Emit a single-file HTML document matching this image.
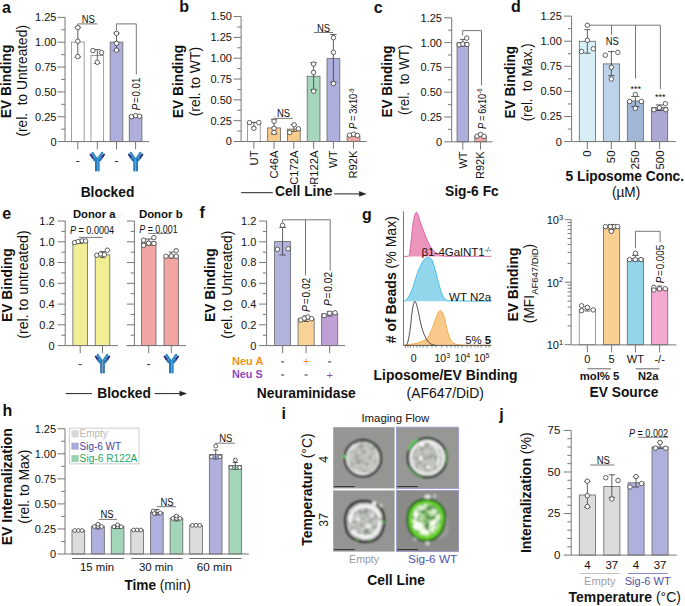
<!DOCTYPE html>
<html><head><meta charset="utf-8"><title>Figure</title>
<style>html,body{margin:0;padding:0;background:#fff;}svg{display:block;}text{font-family:"Liberation Sans",sans-serif;}</style>
</head><body>
<svg width="685" height="606" viewBox="0 0 685 606" font-family="Liberation Sans, sans-serif" fill="#111">
<defs>
<filter id="blur1" x="-20%" y="-20%" width="140%" height="140%"><feGaussianBlur stdDeviation="0.95"/></filter>
<radialGradient id="cellg" cx="0.5" cy="0.5" r="0.5"><stop offset="0" stop-color="#BEC2BB"/><stop offset="0.75" stop-color="#C8CBC5"/><stop offset="1" stop-color="#D6D8D4"/></radialGradient>
<radialGradient id="cellg2" cx="0.5" cy="0.5" r="0.5"><stop offset="0" stop-color="#BFC3BD"/><stop offset="0.7" stop-color="#CACDC8"/><stop offset="1" stop-color="#DCDDDB"/></radialGradient>
<radialGradient id="cellgreen" cx="0.5" cy="0.45" r="0.5"><stop offset="0" stop-color="#9CCB86"/><stop offset="0.5" stop-color="#C8E6B4"/><stop offset="0.85" stop-color="#EFFBE6"/><stop offset="1" stop-color="#B8EA80"/></radialGradient>
<clipPath id="cTL"><circle cx="362.9" cy="458.3" r="16.8"/></clipPath>
<clipPath id="cTR"><circle cx="427.3" cy="457.8" r="18"/></clipPath>
<clipPath id="cBL"><path d="M347.2 522 C346.8 511 352 504.2 360.5 503 C369 502 378.5 505 381 512.5 C384 521 382.5 532.5 374.5 538 C366 542.5 353 539.5 349 531 C347.8 528 347.3 525 347.2 522Z"/></clipPath>
<clipPath id="cBR"><path d="M411.5 521 C411.3 511 417 504.5 425 504 C434 503.6 440.5 509 440.7 518 C441 527 436.5 534.5 428 536.2 C418.5 537.2 412 530.5 411.5 521Z"/></clipPath>
<filter id="noise1" x="0" y="0" width="100%" height="100%" color-interpolation-filters="sRGB"><feTurbulence type="fractalNoise" baseFrequency="0.2" numOctaves="2" seed="3"/><feColorMatrix type="matrix" values="0 0 0 0 0.55  0 0 0 0 0.57  0 0 0 0 0.54  3.2 0 0 0 -1.45"/></filter>
<filter id="noise2" x="0" y="0" width="100%" height="100%" color-interpolation-filters="sRGB"><feTurbulence type="fractalNoise" baseFrequency="0.2" numOctaves="2" seed="7"/><feColorMatrix type="matrix" values="0 0 0 0 0.55  0 0 0 0 0.57  0 0 0 0 0.54  3.2 0 0 0 -1.45"/></filter>
<filter id="noise3" x="0" y="0" width="100%" height="100%" color-interpolation-filters="sRGB"><feTurbulence type="fractalNoise" baseFrequency="0.2" numOctaves="2" seed="11"/><feColorMatrix type="matrix" values="0 0 0 0 0.5  0 0 0 0 0.52  0 0 0 0 0.49  3.2 0 0 0 -1.45"/></filter>
<filter id="noise4" x="0" y="0" width="100%" height="100%" color-interpolation-filters="sRGB"><feTurbulence type="fractalNoise" baseFrequency="0.2" numOctaves="2" seed="5"/><feColorMatrix type="matrix" values="0 0 0 0 0.15  0 0 0 0 0.45  0 0 0 0 0.12  3.2 0 0 0 -1.45"/></filter>
</defs>
<rect width="685" height="606" fill="#fff"/>
<text x="2" y="13" font-size="16" font-weight="bold">a</text>
<text x="11.1" y="81.4" font-size="13.8" font-weight="bold" text-anchor="middle" textLength="73.5" lengthAdjust="spacingAndGlyphs" transform="rotate(-90 11.1 81.4)">EV Binding</text>
<text x="27.5" y="80.8" font-size="13.8" text-anchor="middle" textLength="111.6" lengthAdjust="spacingAndGlyphs" transform="rotate(-90 27.5 80.8)">(rel.  to Untreated)</text>
<line x1="65" y1="17.35" x2="65" y2="141.6" stroke="#777" stroke-width="1"/>
<line x1="57.5" y1="141.6" x2="65" y2="141.6" stroke="#777" stroke-width="1"/>
<text x="56.5" y="145.5" font-size="11" text-anchor="end">0</text>
<line x1="57.5" y1="116.75" x2="65" y2="116.75" stroke="#777" stroke-width="1"/>
<text x="56.5" y="120.65" font-size="11" text-anchor="end">0.25</text>
<line x1="57.5" y1="91.9" x2="65" y2="91.9" stroke="#777" stroke-width="1"/>
<text x="56.5" y="95.8" font-size="11" text-anchor="end">0.50</text>
<line x1="57.5" y1="67.05" x2="65" y2="67.05" stroke="#777" stroke-width="1"/>
<text x="56.5" y="70.95" font-size="11" text-anchor="end">0.75</text>
<line x1="57.5" y1="42.2" x2="65" y2="42.2" stroke="#777" stroke-width="1"/>
<text x="56.5" y="46.1" font-size="11" text-anchor="end">1.00</text>
<line x1="57.5" y1="17.35" x2="65" y2="17.35" stroke="#777" stroke-width="1"/>
<text x="56.5" y="21.25" font-size="11" text-anchor="end">1.25</text>
<line x1="61.2" y1="129.17" x2="65" y2="129.17" stroke="#777" stroke-width="1"/>
<line x1="61.2" y1="104.32" x2="65" y2="104.32" stroke="#777" stroke-width="1"/>
<line x1="61.2" y1="79.47" x2="65" y2="79.47" stroke="#777" stroke-width="1"/>
<line x1="61.2" y1="54.62" x2="65" y2="54.62" stroke="#777" stroke-width="1"/>
<line x1="61.2" y1="29.77" x2="65" y2="29.77" stroke="#777" stroke-width="1"/>
<rect x="71.45" y="42.1" width="12.7" height="99.5" fill="#fff" stroke="#888" stroke-width="0.8"/>
<rect x="90.95" y="55.5" width="12.7" height="86.1" fill="#fff" stroke="#888" stroke-width="0.8"/>
<rect x="110.15" y="42.1" width="12.7" height="99.5" fill="#AEAFDC" stroke="#666" stroke-width="0.8"/>
<rect x="129.25" y="115.8" width="12.7" height="25.8" fill="#AEAFDC" stroke="#666" stroke-width="0.8"/>
<line x1="65" y1="141.6" x2="149" y2="141.6" stroke="#777" stroke-width="1"/>
<line x1="77.8" y1="141.6" x2="77.8" y2="149.3" stroke="#777" stroke-width="1"/>
<line x1="97.3" y1="141.6" x2="97.3" y2="149.3" stroke="#777" stroke-width="1"/>
<line x1="116.5" y1="141.6" x2="116.5" y2="149.3" stroke="#777" stroke-width="1"/>
<line x1="135.6" y1="141.6" x2="135.6" y2="149.3" stroke="#777" stroke-width="1"/>
<line x1="77.8" y1="27.3" x2="77.8" y2="57" stroke="#3a3a3a" stroke-width="0.8"/>
<line x1="74.6" y1="27.3" x2="81" y2="27.3" stroke="#3a3a3a" stroke-width="0.8"/>
<line x1="74.6" y1="57" x2="81" y2="57" stroke="#3a3a3a" stroke-width="0.8"/>
<circle cx="77.8" cy="27.6" r="2.25" fill="#fff" stroke="#3a3a3a" stroke-width="0.8"/>
<circle cx="77.8" cy="41.2" r="2.25" fill="#fff" stroke="#3a3a3a" stroke-width="0.8"/>
<circle cx="77.8" cy="56.6" r="2.25" fill="#fff" stroke="#3a3a3a" stroke-width="0.8"/>
<line x1="97.3" y1="49.6" x2="97.3" y2="63.5" stroke="#3a3a3a" stroke-width="0.8"/>
<line x1="94.1" y1="49.6" x2="100.5" y2="49.6" stroke="#3a3a3a" stroke-width="0.8"/>
<line x1="94.1" y1="63.5" x2="100.5" y2="63.5" stroke="#3a3a3a" stroke-width="0.8"/>
<circle cx="92.9" cy="50.6" r="2.25" fill="#fff" stroke="#3a3a3a" stroke-width="0.8"/>
<circle cx="101.6" cy="52.6" r="2.25" fill="#fff" stroke="#3a3a3a" stroke-width="0.8"/>
<circle cx="97.3" cy="62.3" r="2.25" fill="#fff" stroke="#3a3a3a" stroke-width="0.8"/>
<line x1="116.5" y1="33.2" x2="116.5" y2="50.6" stroke="#3a3a3a" stroke-width="0.8"/>
<line x1="113.3" y1="33.2" x2="119.7" y2="33.2" stroke="#3a3a3a" stroke-width="0.8"/>
<line x1="113.3" y1="50.6" x2="119.7" y2="50.6" stroke="#3a3a3a" stroke-width="0.8"/>
<circle cx="116.5" cy="33.4" r="2.25" fill="#fff" stroke="#3a3a3a" stroke-width="0.8"/>
<circle cx="116.5" cy="43.4" r="2.25" fill="#fff" stroke="#3a3a3a" stroke-width="0.8"/>
<circle cx="116.5" cy="50.2" r="2.25" fill="#fff" stroke="#3a3a3a" stroke-width="0.8"/>
<circle cx="131.5" cy="116.6" r="2.25" fill="#fff" stroke="#3a3a3a" stroke-width="0.8"/>
<circle cx="135.6" cy="115.6" r="2.25" fill="#fff" stroke="#3a3a3a" stroke-width="0.8"/>
<circle cx="139.6" cy="116.2" r="2.25" fill="#fff" stroke="#3a3a3a" stroke-width="0.8"/>
<path d="M77.8 26.2V23.9H97.4" stroke="#777" stroke-width="1" fill="none"/>
<text x="88.3" y="22.8" font-size="10" text-anchor="middle" textLength="13.2" lengthAdjust="spacingAndGlyphs">NS</text>
<path d="M116.4 30.8V23.9H136.3V74.5" stroke="#777" stroke-width="1" fill="none"/>
<text x="139.5" y="94" font-size="10.2" text-anchor="middle" textLength="32.7" lengthAdjust="spacingAndGlyphs" transform="rotate(-90 139.5 94)"><tspan font-style="italic">P</tspan> = 0.01</text>
<line x1="76.2" y1="161.5" x2="79.4" y2="161.5" stroke="#333" stroke-width="1"/>
<line x1="114.9" y1="161.5" x2="118.1" y2="161.5" stroke="#333" stroke-width="1"/>
<g transform="translate(0 0)" stroke-linecap="round" fill="none">
<line x1="96.1" y1="158.6" x2="96.1" y2="170.5" stroke="#1F5C93" stroke-width="2.1"/>
<line x1="98.5" y1="158.6" x2="98.5" y2="170.5" stroke="#1F5C93" stroke-width="2.1"/>
<line x1="96.2" y1="158.4" x2="92.5" y2="152.9" stroke="#1F6FA6" stroke-width="2.1"/>
<line x1="98.4" y1="158.4" x2="102.1" y2="152.9" stroke="#1F6FA6" stroke-width="2.1"/>
<line x1="94.6" y1="160.1" x2="92.6" y2="157.3" stroke="#1F5C93" stroke-width="2.1"/>
<line x1="92.6" y1="157.3" x2="90.6" y2="154.5" stroke="#1C1F6A" stroke-width="2.1"/>
<line x1="100.0" y1="160.1" x2="102.0" y2="157.3" stroke="#1F5C93" stroke-width="2.1"/>
<line x1="102.0" y1="157.3" x2="104.0" y2="154.5" stroke="#1C1F6A" stroke-width="2.1"/>
<line x1="96.1" y1="158.6" x2="96.1" y2="170.5" stroke="#2D8ACB" stroke-width="1.1"/>
<line x1="98.5" y1="158.6" x2="98.5" y2="170.5" stroke="#2D8ACB" stroke-width="1.1"/>
<line x1="96.2" y1="158.4" x2="92.5" y2="152.9" stroke="#2C9FD8" stroke-width="1.1"/>
<line x1="98.4" y1="158.4" x2="102.1" y2="152.9" stroke="#2C9FD8" stroke-width="1.1"/>
<line x1="94.6" y1="160.1" x2="92.6" y2="157.3" stroke="#2D8ACB" stroke-width="1.1"/>
<line x1="92.6" y1="157.3" x2="90.6" y2="154.5" stroke="#2E3A9E" stroke-width="1.1"/>
<line x1="100.0" y1="160.1" x2="102.0" y2="157.3" stroke="#2D8ACB" stroke-width="1.1"/>
<line x1="102.0" y1="157.3" x2="104.0" y2="154.5" stroke="#2E3A9E" stroke-width="1.1"/>
</g>
<g transform="translate(38.3 0)" stroke-linecap="round" fill="none">
<line x1="96.1" y1="158.6" x2="96.1" y2="170.5" stroke="#1F5C93" stroke-width="2.1"/>
<line x1="98.5" y1="158.6" x2="98.5" y2="170.5" stroke="#1F5C93" stroke-width="2.1"/>
<line x1="96.2" y1="158.4" x2="92.5" y2="152.9" stroke="#1F6FA6" stroke-width="2.1"/>
<line x1="98.4" y1="158.4" x2="102.1" y2="152.9" stroke="#1F6FA6" stroke-width="2.1"/>
<line x1="94.6" y1="160.1" x2="92.6" y2="157.3" stroke="#1F5C93" stroke-width="2.1"/>
<line x1="92.6" y1="157.3" x2="90.6" y2="154.5" stroke="#1C1F6A" stroke-width="2.1"/>
<line x1="100.0" y1="160.1" x2="102.0" y2="157.3" stroke="#1F5C93" stroke-width="2.1"/>
<line x1="102.0" y1="157.3" x2="104.0" y2="154.5" stroke="#1C1F6A" stroke-width="2.1"/>
<line x1="96.1" y1="158.6" x2="96.1" y2="170.5" stroke="#2D8ACB" stroke-width="1.1"/>
<line x1="98.5" y1="158.6" x2="98.5" y2="170.5" stroke="#2D8ACB" stroke-width="1.1"/>
<line x1="96.2" y1="158.4" x2="92.5" y2="152.9" stroke="#2C9FD8" stroke-width="1.1"/>
<line x1="98.4" y1="158.4" x2="102.1" y2="152.9" stroke="#2C9FD8" stroke-width="1.1"/>
<line x1="94.6" y1="160.1" x2="92.6" y2="157.3" stroke="#2D8ACB" stroke-width="1.1"/>
<line x1="92.6" y1="157.3" x2="90.6" y2="154.5" stroke="#2E3A9E" stroke-width="1.1"/>
<line x1="100.0" y1="160.1" x2="102.0" y2="157.3" stroke="#2D8ACB" stroke-width="1.1"/>
<line x1="102.0" y1="157.3" x2="104.0" y2="154.5" stroke="#2E3A9E" stroke-width="1.1"/>
</g>
<text x="107.5" y="197" font-size="13.8" font-weight="bold" text-anchor="middle">Blocked</text>
<text x="179.3" y="12.4" font-size="16" font-weight="bold">b</text>
<text x="182.8" y="81.5" font-size="13.8" font-weight="bold" text-anchor="middle" textLength="73.5" lengthAdjust="spacingAndGlyphs" transform="rotate(-90 182.8 81.5)">EV Binding</text>
<text x="199.8" y="81.6" font-size="13.8" text-anchor="middle" textLength="69.3" lengthAdjust="spacingAndGlyphs" transform="rotate(-90 199.8 81.6)">(rel. to WT)</text>
<line x1="241.1" y1="16.55" x2="241.1" y2="141.5" stroke="#777" stroke-width="1"/>
<line x1="233.6" y1="141.5" x2="241.1" y2="141.5" stroke="#777" stroke-width="1"/>
<text x="231.9" y="145.4" font-size="11" text-anchor="end">0</text>
<line x1="233.6" y1="120.67" x2="241.1" y2="120.67" stroke="#777" stroke-width="1"/>
<text x="231.9" y="124.58" font-size="11" text-anchor="end">0.25</text>
<line x1="233.6" y1="99.85" x2="241.1" y2="99.85" stroke="#777" stroke-width="1"/>
<text x="231.9" y="103.75" font-size="11" text-anchor="end">0.50</text>
<line x1="233.6" y1="79.03" x2="241.1" y2="79.03" stroke="#777" stroke-width="1"/>
<text x="231.9" y="82.93" font-size="11" text-anchor="end">0.75</text>
<line x1="233.6" y1="58.2" x2="241.1" y2="58.2" stroke="#777" stroke-width="1"/>
<text x="231.9" y="62.1" font-size="11" text-anchor="end">1.00</text>
<line x1="233.6" y1="37.38" x2="241.1" y2="37.38" stroke="#777" stroke-width="1"/>
<text x="231.9" y="41.27" font-size="11" text-anchor="end">1.25</text>
<line x1="233.6" y1="16.55" x2="241.1" y2="16.55" stroke="#777" stroke-width="1"/>
<text x="231.9" y="20.45" font-size="11" text-anchor="end">1.50</text>
<line x1="237.3" y1="131.09" x2="241.1" y2="131.09" stroke="#777" stroke-width="1"/>
<line x1="237.3" y1="110.26" x2="241.1" y2="110.26" stroke="#777" stroke-width="1"/>
<line x1="237.3" y1="89.44" x2="241.1" y2="89.44" stroke="#777" stroke-width="1"/>
<line x1="237.3" y1="68.61" x2="241.1" y2="68.61" stroke="#777" stroke-width="1"/>
<line x1="237.3" y1="47.79" x2="241.1" y2="47.79" stroke="#777" stroke-width="1"/>
<line x1="237.3" y1="26.96" x2="241.1" y2="26.96" stroke="#777" stroke-width="1"/>
<rect x="247.45" y="122.6" width="12.8" height="18.9" fill="#fff" stroke="#888" stroke-width="0.8"/>
<rect x="267.65" y="127.9" width="12.8" height="13.6" fill="#F7CB8E" stroke="#666" stroke-width="0.8"/>
<rect x="287.4" y="129.1" width="12.8" height="12.4" fill="#F7CB8E" stroke="#666" stroke-width="0.8"/>
<rect x="307.2" y="76.2" width="12.8" height="65.3" fill="#A6D7BC" stroke="#666" stroke-width="0.8"/>
<rect x="327" y="58.6" width="12.8" height="82.9" fill="#AEAFDC" stroke="#666" stroke-width="0.8"/>
<rect x="347.15" y="136" width="12.8" height="5.5" fill="#F0A7A3" stroke="#666" stroke-width="0.8"/>
<line x1="241.1" y1="141.5" x2="366.5" y2="141.5" stroke="#777" stroke-width="1"/>
<line x1="253.85" y1="141.5" x2="253.85" y2="148.7" stroke="#777" stroke-width="1"/>
<line x1="274.05" y1="141.5" x2="274.05" y2="148.7" stroke="#777" stroke-width="1"/>
<line x1="293.8" y1="141.5" x2="293.8" y2="148.7" stroke="#777" stroke-width="1"/>
<line x1="313.6" y1="141.5" x2="313.6" y2="148.7" stroke="#777" stroke-width="1"/>
<line x1="333.4" y1="141.5" x2="333.4" y2="148.7" stroke="#777" stroke-width="1"/>
<line x1="353.55" y1="141.5" x2="353.55" y2="148.7" stroke="#777" stroke-width="1"/>
<line x1="253.85" y1="122.4" x2="253.85" y2="127" stroke="#3a3a3a" stroke-width="0.8"/>
<line x1="251.35" y1="122.4" x2="256.35" y2="122.4" stroke="#3a3a3a" stroke-width="0.8"/>
<line x1="251.35" y1="127" x2="256.35" y2="127" stroke="#3a3a3a" stroke-width="0.8"/>
<circle cx="249.5" cy="122.6" r="2.25" fill="#fff" stroke="#3a3a3a" stroke-width="0.8"/>
<circle cx="258.8" cy="122.6" r="2.25" fill="#fff" stroke="#3a3a3a" stroke-width="0.8"/>
<circle cx="253.85" cy="128.3" r="2.25" fill="#fff" stroke="#3a3a3a" stroke-width="0.8"/>
<line x1="274.05" y1="119.2" x2="274.05" y2="134" stroke="#3a3a3a" stroke-width="0.8"/>
<line x1="270.85" y1="119.2" x2="277.25" y2="119.2" stroke="#3a3a3a" stroke-width="0.8"/>
<line x1="270.85" y1="134" x2="277.25" y2="134" stroke="#3a3a3a" stroke-width="0.8"/>
<circle cx="274.05" cy="121.3" r="2.25" fill="#fff" stroke="#3a3a3a" stroke-width="0.8"/>
<circle cx="274.05" cy="128.4" r="2.25" fill="#fff" stroke="#3a3a3a" stroke-width="0.8"/>
<circle cx="274.05" cy="132.4" r="2.25" fill="#fff" stroke="#3a3a3a" stroke-width="0.8"/>
<line x1="293.8" y1="124.6" x2="293.8" y2="131.4" stroke="#3a3a3a" stroke-width="0.8"/>
<line x1="290.6" y1="124.6" x2="297" y2="124.6" stroke="#3a3a3a" stroke-width="0.8"/>
<line x1="290.6" y1="131.4" x2="297" y2="131.4" stroke="#3a3a3a" stroke-width="0.8"/>
<circle cx="289.7" cy="132.5" r="2.25" fill="#fff" stroke="#3a3a3a" stroke-width="0.8"/>
<circle cx="294.1" cy="124.8" r="2.25" fill="#fff" stroke="#3a3a3a" stroke-width="0.8"/>
<circle cx="298.4" cy="128.8" r="2.25" fill="#fff" stroke="#3a3a3a" stroke-width="0.8"/>
<line x1="313.6" y1="62.5" x2="313.6" y2="89.6" stroke="#3a3a3a" stroke-width="0.8"/>
<line x1="310.4" y1="62.5" x2="316.8" y2="62.5" stroke="#3a3a3a" stroke-width="0.8"/>
<line x1="310.4" y1="89.6" x2="316.8" y2="89.6" stroke="#3a3a3a" stroke-width="0.8"/>
<circle cx="313.6" cy="64.1" r="2.25" fill="#fff" stroke="#3a3a3a" stroke-width="0.8"/>
<circle cx="313.6" cy="72.4" r="2.25" fill="#fff" stroke="#3a3a3a" stroke-width="0.8"/>
<circle cx="313.6" cy="91.2" r="2.25" fill="#fff" stroke="#3a3a3a" stroke-width="0.8"/>
<line x1="333.4" y1="34.5" x2="333.4" y2="82" stroke="#3a3a3a" stroke-width="0.8"/>
<line x1="330.2" y1="34.5" x2="336.6" y2="34.5" stroke="#3a3a3a" stroke-width="0.8"/>
<line x1="330.2" y1="82" x2="336.6" y2="82" stroke="#3a3a3a" stroke-width="0.8"/>
<circle cx="333.4" cy="37.7" r="2.25" fill="#fff" stroke="#3a3a3a" stroke-width="0.8"/>
<circle cx="333.4" cy="52.3" r="2.25" fill="#fff" stroke="#3a3a3a" stroke-width="0.8"/>
<circle cx="333.4" cy="83.6" r="2.25" fill="#fff" stroke="#3a3a3a" stroke-width="0.8"/>
<circle cx="349.6" cy="135.2" r="2.25" fill="#fff" stroke="#3a3a3a" stroke-width="0.8"/>
<circle cx="353.55" cy="134.2" r="2.25" fill="#fff" stroke="#3a3a3a" stroke-width="0.8"/>
<circle cx="357.4" cy="135.4" r="2.25" fill="#fff" stroke="#3a3a3a" stroke-width="0.8"/>
<line x1="273.8" y1="118.3" x2="292.8" y2="118.3" stroke="#777" stroke-width="1"/>
<text x="283.6" y="117" font-size="10" text-anchor="middle" textLength="13.2" lengthAdjust="spacingAndGlyphs">NS</text>
<line x1="313.9" y1="32.5" x2="333" y2="32.5" stroke="#777" stroke-width="1"/>
<text x="323.5" y="31.6" font-size="10" text-anchor="middle" textLength="13.2" lengthAdjust="spacingAndGlyphs">NS</text>
<text x="357.5" y="108.7" font-size="10" text-anchor="middle" textLength="40.6" lengthAdjust="spacingAndGlyphs" transform="rotate(-90 357.5 108.7)"><tspan font-style="italic">P</tspan> = 3x10<tspan font-size="6.5" dy="-3.5">-9</tspan></text>
<text x="257.75" y="150.5" font-size="11.2" text-anchor="end" transform="rotate(-90 257.75 150.5)">UT</text>
<text x="277.95" y="150.5" font-size="11.2" text-anchor="end" transform="rotate(-90 277.95 150.5)">C46A</text>
<text x="297.7" y="150.5" font-size="11.2" text-anchor="end" transform="rotate(-90 297.7 150.5)">C172A</text>
<text x="317.5" y="150.5" font-size="11.2" text-anchor="end" transform="rotate(-90 317.5 150.5)">R122A</text>
<text x="337.3" y="150.5" font-size="11.2" text-anchor="end" transform="rotate(-90 337.3 150.5)">WT</text>
<text x="357.45" y="150.5" font-size="11.2" text-anchor="end" transform="rotate(-90 357.45 150.5)">R92K</text>
<line x1="241.1" y1="192.7" x2="272.8" y2="192.7" stroke="#222" stroke-width="1"/>
<text x="303.8" y="196.3" font-size="13.8" font-weight="bold" text-anchor="middle">Cell Line</text>
<line x1="334.1" y1="193.9" x2="362" y2="193.9" stroke="#222" stroke-width="1"/>
<path d="M359.3 191.5L365.9 193.9L359.3 196.3Z" stroke="#222" stroke-width="0.5" fill="#222"/>
<text x="373.7" y="12.5" font-size="16" font-weight="bold">c</text>
<text x="392.4" y="81.6" font-size="13.8" font-weight="bold" text-anchor="middle" textLength="72" lengthAdjust="spacingAndGlyphs" transform="rotate(-90 392.4 81.6)">EV Binding</text>
<text x="408.8" y="79.8" font-size="13.8" text-anchor="middle" textLength="70.5" lengthAdjust="spacingAndGlyphs" transform="rotate(-90 408.8 79.8)">(rel.  to WT)</text>
<line x1="451.7" y1="17.8" x2="451.7" y2="141.8" stroke="#777" stroke-width="1"/>
<line x1="444.2" y1="141.8" x2="451.7" y2="141.8" stroke="#777" stroke-width="1"/>
<text x="442" y="145.7" font-size="11" text-anchor="end">0</text>
<line x1="444.2" y1="117" x2="451.7" y2="117" stroke="#777" stroke-width="1"/>
<text x="442" y="120.9" font-size="11" text-anchor="end">0.25</text>
<line x1="444.2" y1="92.2" x2="451.7" y2="92.2" stroke="#777" stroke-width="1"/>
<text x="442" y="96.1" font-size="11" text-anchor="end">0.50</text>
<line x1="444.2" y1="67.4" x2="451.7" y2="67.4" stroke="#777" stroke-width="1"/>
<text x="442" y="71.3" font-size="11" text-anchor="end">0.75</text>
<line x1="444.2" y1="42.6" x2="451.7" y2="42.6" stroke="#777" stroke-width="1"/>
<text x="442" y="46.5" font-size="11" text-anchor="end">1.00</text>
<line x1="444.2" y1="17.8" x2="451.7" y2="17.8" stroke="#777" stroke-width="1"/>
<text x="442" y="21.7" font-size="11" text-anchor="end">1.25</text>
<line x1="447.9" y1="129.4" x2="451.7" y2="129.4" stroke="#777" stroke-width="1"/>
<line x1="447.9" y1="104.6" x2="451.7" y2="104.6" stroke="#777" stroke-width="1"/>
<line x1="447.9" y1="79.8" x2="451.7" y2="79.8" stroke="#777" stroke-width="1"/>
<line x1="447.9" y1="55" x2="451.7" y2="55" stroke="#777" stroke-width="1"/>
<line x1="447.9" y1="30.2" x2="451.7" y2="30.2" stroke="#777" stroke-width="1"/>
<rect x="457.05" y="42.6" width="11.5" height="99.2" fill="#AEAFDC" stroke="#666" stroke-width="0.8"/>
<rect x="474.75" y="136.2" width="11.5" height="5.6" fill="#F0A7A3" stroke="#666" stroke-width="0.8"/>
<line x1="451.7" y1="141.8" x2="492.6" y2="141.8" stroke="#777" stroke-width="1"/>
<line x1="462.8" y1="141.8" x2="462.8" y2="149.6" stroke="#777" stroke-width="1"/>
<line x1="480.5" y1="141.8" x2="480.5" y2="149.6" stroke="#777" stroke-width="1"/>
<line x1="462.8" y1="39.4" x2="462.8" y2="46" stroke="#3a3a3a" stroke-width="0.8"/>
<line x1="460" y1="39.4" x2="465.6" y2="39.4" stroke="#3a3a3a" stroke-width="0.8"/>
<line x1="460" y1="46" x2="465.6" y2="46" stroke="#3a3a3a" stroke-width="0.8"/>
<circle cx="459.2" cy="44.8" r="2.25" fill="#fff" stroke="#3a3a3a" stroke-width="0.8"/>
<circle cx="462.8" cy="44" r="2.25" fill="#fff" stroke="#3a3a3a" stroke-width="0.8"/>
<circle cx="467" cy="44.4" r="2.25" fill="#fff" stroke="#3a3a3a" stroke-width="0.8"/>
<circle cx="466.7" cy="38.1" r="2.25" fill="#fff" stroke="#3a3a3a" stroke-width="0.8"/>
<circle cx="477" cy="136.2" r="2.25" fill="#fff" stroke="#3a3a3a" stroke-width="0.8"/>
<circle cx="480.5" cy="134.5" r="2.25" fill="#fff" stroke="#3a3a3a" stroke-width="0.8"/>
<circle cx="484" cy="136.4" r="2.25" fill="#fff" stroke="#3a3a3a" stroke-width="0.8"/>
<path d="M462.6 35.5V30.6H481.5V85.4" stroke="#777" stroke-width="1" fill="none"/>
<text x="485.7" y="108.7" font-size="10" text-anchor="middle" textLength="40.6" lengthAdjust="spacingAndGlyphs" transform="rotate(-90 485.7 108.7)"><tspan font-style="italic">P</tspan> = 6x10<tspan font-size="6.5" dy="-3.5">-6</tspan></text>
<text x="466.7" y="151.4" font-size="11" text-anchor="end" transform="rotate(-90 466.7 151.4)">WT</text>
<text x="484.4" y="151.4" font-size="11" text-anchor="end" transform="rotate(-90 484.4 151.4)">R92K</text>
<text x="471.9" y="196" font-size="13.8" font-weight="bold" text-anchor="middle">Sig-6 Fc</text>
<text x="511" y="12.4" font-size="16" font-weight="bold">d</text>
<text x="514.8" y="82.1" font-size="13.8" font-weight="bold" text-anchor="middle" textLength="72.6" lengthAdjust="spacingAndGlyphs" transform="rotate(-90 514.8 82.1)">EV Binding</text>
<text x="531.6" y="82.3" font-size="13.8" text-anchor="middle" textLength="78" lengthAdjust="spacingAndGlyphs" transform="rotate(-90 531.6 82.3)">(rel.  to Max.)</text>
<line x1="571.6" y1="16.1" x2="571.6" y2="141.6" stroke="#777" stroke-width="1"/>
<line x1="564.1" y1="141.6" x2="571.6" y2="141.6" stroke="#777" stroke-width="1"/>
<text x="561.8" y="145.5" font-size="11" text-anchor="end">0</text>
<line x1="564.1" y1="116.5" x2="571.6" y2="116.5" stroke="#777" stroke-width="1"/>
<text x="561.8" y="120.4" font-size="11" text-anchor="end">0.25</text>
<line x1="564.1" y1="91.4" x2="571.6" y2="91.4" stroke="#777" stroke-width="1"/>
<text x="561.8" y="95.3" font-size="11" text-anchor="end">0.50</text>
<line x1="564.1" y1="66.3" x2="571.6" y2="66.3" stroke="#777" stroke-width="1"/>
<text x="561.8" y="70.2" font-size="11" text-anchor="end">0.75</text>
<line x1="564.1" y1="41.2" x2="571.6" y2="41.2" stroke="#777" stroke-width="1"/>
<text x="561.8" y="45.1" font-size="11" text-anchor="end">1.00</text>
<line x1="564.1" y1="16.1" x2="571.6" y2="16.1" stroke="#777" stroke-width="1"/>
<text x="561.8" y="20" font-size="11" text-anchor="end">1.25</text>
<line x1="567.8" y1="129.05" x2="571.6" y2="129.05" stroke="#777" stroke-width="1"/>
<line x1="567.8" y1="103.95" x2="571.6" y2="103.95" stroke="#777" stroke-width="1"/>
<line x1="567.8" y1="78.85" x2="571.6" y2="78.85" stroke="#777" stroke-width="1"/>
<line x1="567.8" y1="53.75" x2="571.6" y2="53.75" stroke="#777" stroke-width="1"/>
<line x1="567.8" y1="28.65" x2="571.6" y2="28.65" stroke="#777" stroke-width="1"/>
<rect x="579.3" y="41.3" width="16.1" height="100.3" fill="#D8EEF6" stroke="#666" stroke-width="0.8"/>
<rect x="603.3" y="63.9" width="16.1" height="77.7" fill="#BDD3EA" stroke="#666" stroke-width="0.8"/>
<rect x="627.3" y="101" width="16.1" height="40.6" fill="#A1B6D5" stroke="#666" stroke-width="0.8"/>
<rect x="651.6" y="107.7" width="16.1" height="33.9" fill="#ABA8D3" stroke="#666" stroke-width="0.8"/>
<line x1="571.6" y1="141.6" x2="675.8" y2="141.6" stroke="#777" stroke-width="1"/>
<line x1="587.35" y1="141.6" x2="587.35" y2="149.1" stroke="#777" stroke-width="1"/>
<line x1="611.35" y1="141.6" x2="611.35" y2="149.1" stroke="#777" stroke-width="1"/>
<line x1="635.35" y1="141.6" x2="635.35" y2="149.1" stroke="#777" stroke-width="1"/>
<line x1="659.65" y1="141.6" x2="659.65" y2="149.1" stroke="#777" stroke-width="1"/>
<line x1="587.35" y1="29.7" x2="587.35" y2="53.2" stroke="#3a3a3a" stroke-width="0.8"/>
<line x1="584.15" y1="29.7" x2="590.55" y2="29.7" stroke="#3a3a3a" stroke-width="0.8"/>
<line x1="584.15" y1="53.2" x2="590.55" y2="53.2" stroke="#3a3a3a" stroke-width="0.8"/>
<circle cx="587.35" cy="25.3" r="2.25" fill="#fff" stroke="#3a3a3a" stroke-width="0.8"/>
<circle cx="587.35" cy="40.3" r="2.25" fill="#fff" stroke="#3a3a3a" stroke-width="0.8"/>
<circle cx="581.6" cy="51.5" r="2.25" fill="#fff" stroke="#3a3a3a" stroke-width="0.8"/>
<circle cx="593.3" cy="48.8" r="2.25" fill="#fff" stroke="#3a3a3a" stroke-width="0.8"/>
<line x1="611.35" y1="51.5" x2="611.35" y2="75.7" stroke="#3a3a3a" stroke-width="0.8"/>
<line x1="608.15" y1="51.5" x2="614.55" y2="51.5" stroke="#3a3a3a" stroke-width="0.8"/>
<line x1="608.15" y1="75.7" x2="614.55" y2="75.7" stroke="#3a3a3a" stroke-width="0.8"/>
<circle cx="605.3" cy="55.2" r="2.25" fill="#fff" stroke="#3a3a3a" stroke-width="0.8"/>
<circle cx="617.8" cy="52.4" r="2.25" fill="#fff" stroke="#3a3a3a" stroke-width="0.8"/>
<circle cx="611.35" cy="67.3" r="2.25" fill="#fff" stroke="#3a3a3a" stroke-width="0.8"/>
<circle cx="611.35" cy="79" r="2.25" fill="#fff" stroke="#3a3a3a" stroke-width="0.8"/>
<line x1="635.35" y1="96.5" x2="635.35" y2="106.5" stroke="#3a3a3a" stroke-width="0.8"/>
<line x1="631.35" y1="96.5" x2="639.35" y2="96.5" stroke="#3a3a3a" stroke-width="0.8"/>
<line x1="631.35" y1="106.5" x2="639.35" y2="106.5" stroke="#3a3a3a" stroke-width="0.8"/>
<circle cx="635.35" cy="94.5" r="2.25" fill="#fff" stroke="#3a3a3a" stroke-width="0.8"/>
<circle cx="629.6" cy="101.5" r="2.25" fill="#fff" stroke="#3a3a3a" stroke-width="0.8"/>
<circle cx="641.4" cy="101.5" r="2.25" fill="#fff" stroke="#3a3a3a" stroke-width="0.8"/>
<circle cx="635.35" cy="108.3" r="2.25" fill="#fff" stroke="#3a3a3a" stroke-width="0.8"/>
<line x1="659.65" y1="104.9" x2="659.65" y2="110.5" stroke="#3a3a3a" stroke-width="0.8"/>
<line x1="655.85" y1="104.9" x2="663.45" y2="104.9" stroke="#3a3a3a" stroke-width="0.8"/>
<line x1="655.85" y1="110.5" x2="663.45" y2="110.5" stroke="#3a3a3a" stroke-width="0.8"/>
<circle cx="653.9" cy="109.7" r="2.25" fill="#fff" stroke="#3a3a3a" stroke-width="0.8"/>
<circle cx="659.4" cy="107.7" r="2.25" fill="#fff" stroke="#3a3a3a" stroke-width="0.8"/>
<circle cx="665.4" cy="103.7" r="2.25" fill="#fff" stroke="#3a3a3a" stroke-width="0.8"/>
<circle cx="665.8" cy="109.7" r="2.25" fill="#fff" stroke="#3a3a3a" stroke-width="0.8"/>
<line x1="589.6" y1="25.2" x2="660.4" y2="25.2" stroke="#777" stroke-width="1"/>
<line x1="611.5" y1="25.2" x2="611.5" y2="34.7" stroke="#777" stroke-width="1"/>
<line x1="635.5" y1="25.2" x2="635.5" y2="78.7" stroke="#777" stroke-width="1"/>
<line x1="660.4" y1="25.2" x2="660.4" y2="89.1" stroke="#777" stroke-width="1"/>
<text x="612.3" y="45.4" font-size="10" text-anchor="middle" textLength="13.1" lengthAdjust="spacingAndGlyphs">NS</text>
<text x="635.8" y="91.6" font-size="9.4" text-anchor="middle" textLength="10.6" lengthAdjust="spacingAndGlyphs">***</text>
<text x="660.2" y="99.6" font-size="9.4" text-anchor="middle" textLength="10.6" lengthAdjust="spacingAndGlyphs">***</text>
<text x="591.35" y="150.5" font-size="11.4" text-anchor="end" transform="rotate(-90 591.35 150.5)">0</text>
<text x="615.35" y="150.5" font-size="11.4" text-anchor="end" transform="rotate(-90 615.35 150.5)">50</text>
<text x="639.35" y="150.5" font-size="11.4" text-anchor="end" transform="rotate(-90 639.35 150.5)">250</text>
<text x="663.65" y="150.5" font-size="11.4" text-anchor="end" transform="rotate(-90 663.65 150.5)">500</text>
<text x="624.8" y="180.7" font-size="13.8" font-weight="bold" text-anchor="middle" textLength="118.6" lengthAdjust="spacingAndGlyphs">5 Liposome Conc.</text>
<text x="626.1" y="196.6" font-size="13.8" text-anchor="middle" textLength="28.3" lengthAdjust="spacingAndGlyphs">(µM)</text>
<text x="2.3" y="219.2" font-size="16" font-weight="bold">e</text>
<text x="11.6" y="285.2" font-size="13.8" font-weight="bold" text-anchor="middle" textLength="73.6" lengthAdjust="spacingAndGlyphs" transform="rotate(-90 11.6 285.2)">EV Binding</text>
<text x="28.4" y="284.5" font-size="13.8" text-anchor="middle" textLength="108.3" lengthAdjust="spacingAndGlyphs" transform="rotate(-90 28.4 284.5)">(rel. to untreated)</text>
<line x1="65.2" y1="221.04" x2="65.2" y2="345.6" stroke="#777" stroke-width="1"/>
<line x1="57.7" y1="345.6" x2="65.2" y2="345.6" stroke="#777" stroke-width="1"/>
<text x="54.6" y="349.5" font-size="11" text-anchor="end">0</text>
<line x1="57.7" y1="324.84" x2="65.2" y2="324.84" stroke="#777" stroke-width="1"/>
<text x="54.6" y="328.74" font-size="11" text-anchor="end">0.2</text>
<line x1="57.7" y1="304.08" x2="65.2" y2="304.08" stroke="#777" stroke-width="1"/>
<text x="54.6" y="307.98" font-size="11" text-anchor="end">0.4</text>
<line x1="57.7" y1="283.32" x2="65.2" y2="283.32" stroke="#777" stroke-width="1"/>
<text x="54.6" y="287.22" font-size="11" text-anchor="end">0.6</text>
<line x1="57.7" y1="262.56" x2="65.2" y2="262.56" stroke="#777" stroke-width="1"/>
<text x="54.6" y="266.46" font-size="11" text-anchor="end">0.8</text>
<line x1="57.7" y1="241.8" x2="65.2" y2="241.8" stroke="#777" stroke-width="1"/>
<text x="54.6" y="245.7" font-size="11" text-anchor="end">1.0</text>
<line x1="57.7" y1="221.04" x2="65.2" y2="221.04" stroke="#777" stroke-width="1"/>
<text x="54.6" y="224.94" font-size="11" text-anchor="end">1.2</text>
<line x1="61.4" y1="335.22" x2="65.2" y2="335.22" stroke="#777" stroke-width="1"/>
<line x1="61.4" y1="314.46" x2="65.2" y2="314.46" stroke="#777" stroke-width="1"/>
<line x1="61.4" y1="293.7" x2="65.2" y2="293.7" stroke="#777" stroke-width="1"/>
<line x1="61.4" y1="272.94" x2="65.2" y2="272.94" stroke="#777" stroke-width="1"/>
<line x1="61.4" y1="252.18" x2="65.2" y2="252.18" stroke="#777" stroke-width="1"/>
<line x1="61.4" y1="231.42" x2="65.2" y2="231.42" stroke="#777" stroke-width="1"/>
<line x1="134.4" y1="221.04" x2="134.4" y2="345.6" stroke="#777" stroke-width="1"/>
<line x1="126.9" y1="345.6" x2="134.4" y2="345.6" stroke="#777" stroke-width="1"/>
<line x1="126.9" y1="324.84" x2="134.4" y2="324.84" stroke="#777" stroke-width="1"/>
<line x1="126.9" y1="304.08" x2="134.4" y2="304.08" stroke="#777" stroke-width="1"/>
<line x1="126.9" y1="283.32" x2="134.4" y2="283.32" stroke="#777" stroke-width="1"/>
<line x1="126.9" y1="262.56" x2="134.4" y2="262.56" stroke="#777" stroke-width="1"/>
<line x1="126.9" y1="241.8" x2="134.4" y2="241.8" stroke="#777" stroke-width="1"/>
<line x1="126.9" y1="221.04" x2="134.4" y2="221.04" stroke="#777" stroke-width="1"/>
<line x1="130.6" y1="335.22" x2="134.4" y2="335.22" stroke="#777" stroke-width="1"/>
<line x1="130.6" y1="314.46" x2="134.4" y2="314.46" stroke="#777" stroke-width="1"/>
<line x1="130.6" y1="293.7" x2="134.4" y2="293.7" stroke="#777" stroke-width="1"/>
<line x1="130.6" y1="272.94" x2="134.4" y2="272.94" stroke="#777" stroke-width="1"/>
<line x1="130.6" y1="252.18" x2="134.4" y2="252.18" stroke="#777" stroke-width="1"/>
<line x1="130.6" y1="231.42" x2="134.4" y2="231.42" stroke="#777" stroke-width="1"/>
<rect x="72.9" y="241.8" width="14.6" height="103.8" fill="#F1EE96" stroke="#666" stroke-width="0.8"/>
<rect x="95.2" y="254.8" width="14.6" height="90.8" fill="#F1EE96" stroke="#666" stroke-width="0.8"/>
<rect x="141.4" y="242" width="14.6" height="103.6" fill="#F0A7A3" stroke="#666" stroke-width="0.8"/>
<rect x="164" y="255.7" width="14.6" height="89.9" fill="#F0A7A3" stroke="#666" stroke-width="0.8"/>
<line x1="65.2" y1="345.6" x2="117.9" y2="345.6" stroke="#777" stroke-width="1"/>
<line x1="126.6" y1="345.6" x2="186" y2="345.6" stroke="#777" stroke-width="1"/>
<line x1="80.2" y1="345.6" x2="80.2" y2="353.2" stroke="#777" stroke-width="1"/>
<line x1="102.5" y1="345.6" x2="102.5" y2="353.2" stroke="#777" stroke-width="1"/>
<line x1="148.7" y1="345.6" x2="148.7" y2="353.2" stroke="#777" stroke-width="1"/>
<line x1="171.3" y1="345.6" x2="171.3" y2="353.2" stroke="#777" stroke-width="1"/>
<line x1="80.2" y1="240.2" x2="80.2" y2="243.4" stroke="#3a3a3a" stroke-width="0.8"/>
<line x1="77.6" y1="240.2" x2="82.8" y2="240.2" stroke="#3a3a3a" stroke-width="0.8"/>
<line x1="77.6" y1="243.4" x2="82.8" y2="243.4" stroke="#3a3a3a" stroke-width="0.8"/>
<circle cx="74.6" cy="242.6" r="2.25" fill="#fff" stroke="#3a3a3a" stroke-width="0.8"/>
<circle cx="78.2" cy="241.6" r="2.25" fill="#fff" stroke="#3a3a3a" stroke-width="0.8"/>
<circle cx="82.2" cy="240.8" r="2.25" fill="#fff" stroke="#3a3a3a" stroke-width="0.8"/>
<circle cx="85.6" cy="241" r="2.25" fill="#fff" stroke="#3a3a3a" stroke-width="0.8"/>
<line x1="102.5" y1="251.6" x2="102.5" y2="257.6" stroke="#3a3a3a" stroke-width="0.8"/>
<line x1="99.9" y1="251.6" x2="105.1" y2="251.6" stroke="#3a3a3a" stroke-width="0.8"/>
<line x1="99.9" y1="257.6" x2="105.1" y2="257.6" stroke="#3a3a3a" stroke-width="0.8"/>
<circle cx="96.9" cy="255.2" r="2.25" fill="#fff" stroke="#3a3a3a" stroke-width="0.8"/>
<circle cx="100.7" cy="254" r="2.25" fill="#fff" stroke="#3a3a3a" stroke-width="0.8"/>
<circle cx="104.3" cy="254.8" r="2.25" fill="#fff" stroke="#3a3a3a" stroke-width="0.8"/>
<circle cx="107.4" cy="250.2" r="2.25" fill="#fff" stroke="#3a3a3a" stroke-width="0.8"/>
<line x1="148.7" y1="239" x2="148.7" y2="245.2" stroke="#3a3a3a" stroke-width="0.8"/>
<line x1="145.2" y1="239" x2="152.2" y2="239" stroke="#3a3a3a" stroke-width="0.8"/>
<line x1="145.2" y1="245.2" x2="152.2" y2="245.2" stroke="#3a3a3a" stroke-width="0.8"/>
<circle cx="143.6" cy="240.2" r="2.25" fill="#fff" stroke="#3a3a3a" stroke-width="0.8"/>
<circle cx="143.6" cy="245.4" r="2.25" fill="#fff" stroke="#3a3a3a" stroke-width="0.8"/>
<circle cx="148.7" cy="243.2" r="2.25" fill="#fff" stroke="#3a3a3a" stroke-width="0.8"/>
<circle cx="153.9" cy="237.6" r="2.25" fill="#fff" stroke="#3a3a3a" stroke-width="0.8"/>
<circle cx="153.9" cy="243.4" r="2.25" fill="#fff" stroke="#3a3a3a" stroke-width="0.8"/>
<line x1="171.3" y1="252" x2="171.3" y2="258" stroke="#3a3a3a" stroke-width="0.8"/>
<line x1="168.7" y1="252" x2="173.9" y2="252" stroke="#3a3a3a" stroke-width="0.8"/>
<line x1="168.7" y1="258" x2="173.9" y2="258" stroke="#3a3a3a" stroke-width="0.8"/>
<circle cx="166" cy="256.2" r="2.25" fill="#fff" stroke="#3a3a3a" stroke-width="0.8"/>
<circle cx="171.3" cy="256" r="2.25" fill="#fff" stroke="#3a3a3a" stroke-width="0.8"/>
<circle cx="176.2" cy="250.7" r="2.25" fill="#fff" stroke="#3a3a3a" stroke-width="0.8"/>
<circle cx="176.2" cy="256.4" r="2.25" fill="#fff" stroke="#3a3a3a" stroke-width="0.8"/>
<text x="94.2" y="217.8" font-size="11" font-weight="bold" text-anchor="middle" textLength="42.5" lengthAdjust="spacingAndGlyphs">Donor a</text>
<text x="160.8" y="217.7" font-size="11" font-weight="bold" text-anchor="middle" textLength="43.8" lengthAdjust="spacingAndGlyphs">Donor b</text>
<text x="69.9" y="234" font-size="10.6" textLength="44.2" lengthAdjust="spacingAndGlyphs"><tspan font-style="italic">P</tspan> = 0.0004</text>
<line x1="79" y1="237.4" x2="102.7" y2="237.4" stroke="#777" stroke-width="1"/>
<text x="139.3" y="232.5" font-size="10.6" textLength="38.3" lengthAdjust="spacingAndGlyphs"><tspan font-style="italic">P</tspan> = 0.001</text>
<line x1="148.2" y1="233.4" x2="171" y2="233.4" stroke="#777" stroke-width="1"/>
<line x1="78.6" y1="364.6" x2="81.8" y2="364.6" stroke="#333" stroke-width="1"/>
<line x1="147.1" y1="364.6" x2="150.3" y2="364.6" stroke="#333" stroke-width="1"/>
<g transform="translate(0 202)">
<g transform="translate(5.2 0)" stroke-linecap="round" fill="none">
<line x1="96.1" y1="158.6" x2="96.1" y2="170.5" stroke="#1F5C93" stroke-width="2.1"/>
<line x1="98.5" y1="158.6" x2="98.5" y2="170.5" stroke="#1F5C93" stroke-width="2.1"/>
<line x1="96.2" y1="158.4" x2="92.5" y2="152.9" stroke="#1F6FA6" stroke-width="2.1"/>
<line x1="98.4" y1="158.4" x2="102.1" y2="152.9" stroke="#1F6FA6" stroke-width="2.1"/>
<line x1="94.6" y1="160.1" x2="92.6" y2="157.3" stroke="#1F5C93" stroke-width="2.1"/>
<line x1="92.6" y1="157.3" x2="90.6" y2="154.5" stroke="#1C1F6A" stroke-width="2.1"/>
<line x1="100.0" y1="160.1" x2="102.0" y2="157.3" stroke="#1F5C93" stroke-width="2.1"/>
<line x1="102.0" y1="157.3" x2="104.0" y2="154.5" stroke="#1C1F6A" stroke-width="2.1"/>
<line x1="96.1" y1="158.6" x2="96.1" y2="170.5" stroke="#2D8ACB" stroke-width="1.1"/>
<line x1="98.5" y1="158.6" x2="98.5" y2="170.5" stroke="#2D8ACB" stroke-width="1.1"/>
<line x1="96.2" y1="158.4" x2="92.5" y2="152.9" stroke="#2C9FD8" stroke-width="1.1"/>
<line x1="98.4" y1="158.4" x2="102.1" y2="152.9" stroke="#2C9FD8" stroke-width="1.1"/>
<line x1="94.6" y1="160.1" x2="92.6" y2="157.3" stroke="#2D8ACB" stroke-width="1.1"/>
<line x1="92.6" y1="157.3" x2="90.6" y2="154.5" stroke="#2E3A9E" stroke-width="1.1"/>
<line x1="100.0" y1="160.1" x2="102.0" y2="157.3" stroke="#2D8ACB" stroke-width="1.1"/>
<line x1="102.0" y1="157.3" x2="104.0" y2="154.5" stroke="#2E3A9E" stroke-width="1.1"/>
</g>
<g transform="translate(74 0)" stroke-linecap="round" fill="none">
<line x1="96.1" y1="158.6" x2="96.1" y2="170.5" stroke="#1F5C93" stroke-width="2.1"/>
<line x1="98.5" y1="158.6" x2="98.5" y2="170.5" stroke="#1F5C93" stroke-width="2.1"/>
<line x1="96.2" y1="158.4" x2="92.5" y2="152.9" stroke="#1F6FA6" stroke-width="2.1"/>
<line x1="98.4" y1="158.4" x2="102.1" y2="152.9" stroke="#1F6FA6" stroke-width="2.1"/>
<line x1="94.6" y1="160.1" x2="92.6" y2="157.3" stroke="#1F5C93" stroke-width="2.1"/>
<line x1="92.6" y1="157.3" x2="90.6" y2="154.5" stroke="#1C1F6A" stroke-width="2.1"/>
<line x1="100.0" y1="160.1" x2="102.0" y2="157.3" stroke="#1F5C93" stroke-width="2.1"/>
<line x1="102.0" y1="157.3" x2="104.0" y2="154.5" stroke="#1C1F6A" stroke-width="2.1"/>
<line x1="96.1" y1="158.6" x2="96.1" y2="170.5" stroke="#2D8ACB" stroke-width="1.1"/>
<line x1="98.5" y1="158.6" x2="98.5" y2="170.5" stroke="#2D8ACB" stroke-width="1.1"/>
<line x1="96.2" y1="158.4" x2="92.5" y2="152.9" stroke="#2C9FD8" stroke-width="1.1"/>
<line x1="98.4" y1="158.4" x2="102.1" y2="152.9" stroke="#2C9FD8" stroke-width="1.1"/>
<line x1="94.6" y1="160.1" x2="92.6" y2="157.3" stroke="#2D8ACB" stroke-width="1.1"/>
<line x1="92.6" y1="157.3" x2="90.6" y2="154.5" stroke="#2E3A9E" stroke-width="1.1"/>
<line x1="100.0" y1="160.1" x2="102.0" y2="157.3" stroke="#2D8ACB" stroke-width="1.1"/>
<line x1="102.0" y1="157.3" x2="104.0" y2="154.5" stroke="#2E3A9E" stroke-width="1.1"/>
</g>
</g>
<line x1="65.7" y1="393.6" x2="91.9" y2="393.6" stroke="#222" stroke-width="1"/>
<text x="124.1" y="397.7" font-size="13.8" font-weight="bold" text-anchor="middle">Blocked</text>
<line x1="154.5" y1="393.6" x2="182.5" y2="393.6" stroke="#222" stroke-width="1"/>
<path d="M179.8 391.2L186.3 393.6L179.8 396Z" stroke="#222" stroke-width="0.5" fill="#222"/>
<text x="199.5" y="218.1" font-size="16" font-weight="bold">f</text>
<text x="214.7" y="285.2" font-size="13.8" font-weight="bold" text-anchor="middle" textLength="73.6" lengthAdjust="spacingAndGlyphs" transform="rotate(-90 214.7 285.2)">EV Binding</text>
<text x="232.2" y="284.7" font-size="13.8" text-anchor="middle" textLength="108.1" lengthAdjust="spacingAndGlyphs" transform="rotate(-90 232.2 284.7)">(rel. to Untreated)</text>
<line x1="266.6" y1="221.04" x2="266.6" y2="345.6" stroke="#777" stroke-width="1"/>
<line x1="259.1" y1="345.6" x2="266.6" y2="345.6" stroke="#777" stroke-width="1"/>
<text x="256.4" y="349.5" font-size="11" text-anchor="end">0</text>
<line x1="259.1" y1="324.84" x2="266.6" y2="324.84" stroke="#777" stroke-width="1"/>
<text x="256.4" y="328.74" font-size="11" text-anchor="end">0.2</text>
<line x1="259.1" y1="304.08" x2="266.6" y2="304.08" stroke="#777" stroke-width="1"/>
<text x="256.4" y="307.98" font-size="11" text-anchor="end">0.4</text>
<line x1="259.1" y1="283.32" x2="266.6" y2="283.32" stroke="#777" stroke-width="1"/>
<text x="256.4" y="287.22" font-size="11" text-anchor="end">0.6</text>
<line x1="259.1" y1="262.56" x2="266.6" y2="262.56" stroke="#777" stroke-width="1"/>
<text x="256.4" y="266.46" font-size="11" text-anchor="end">0.8</text>
<line x1="259.1" y1="241.8" x2="266.6" y2="241.8" stroke="#777" stroke-width="1"/>
<text x="256.4" y="245.7" font-size="11" text-anchor="end">1.0</text>
<line x1="259.1" y1="221.04" x2="266.6" y2="221.04" stroke="#777" stroke-width="1"/>
<text x="256.4" y="224.94" font-size="11" text-anchor="end">1.2</text>
<line x1="262.8" y1="335.22" x2="266.6" y2="335.22" stroke="#777" stroke-width="1"/>
<line x1="262.8" y1="314.46" x2="266.6" y2="314.46" stroke="#777" stroke-width="1"/>
<line x1="262.8" y1="293.7" x2="266.6" y2="293.7" stroke="#777" stroke-width="1"/>
<line x1="262.8" y1="272.94" x2="266.6" y2="272.94" stroke="#777" stroke-width="1"/>
<line x1="262.8" y1="252.18" x2="266.6" y2="252.18" stroke="#777" stroke-width="1"/>
<line x1="262.8" y1="231.42" x2="266.6" y2="231.42" stroke="#777" stroke-width="1"/>
<rect x="274.55" y="241.6" width="16.1" height="104" fill="#B1B3DE" stroke="#666" stroke-width="0.8"/>
<rect x="298.05" y="318.8" width="16.1" height="26.8" fill="#F8D297" stroke="#666" stroke-width="0.8"/>
<rect x="321.65" y="313.9" width="16.1" height="31.7" fill="#BFA0D6" stroke="#666" stroke-width="0.8"/>
<line x1="266.6" y1="345.6" x2="345.2" y2="345.6" stroke="#777" stroke-width="1"/>
<line x1="282.6" y1="345.6" x2="282.6" y2="353.1" stroke="#777" stroke-width="1"/>
<line x1="306.1" y1="345.6" x2="306.1" y2="353.1" stroke="#777" stroke-width="1"/>
<line x1="329.7" y1="345.6" x2="329.7" y2="353.1" stroke="#777" stroke-width="1"/>
<line x1="282.6" y1="227.5" x2="282.6" y2="255" stroke="#3a3a3a" stroke-width="0.8"/>
<line x1="279.4" y1="227.5" x2="285.8" y2="227.5" stroke="#3a3a3a" stroke-width="0.8"/>
<line x1="279.4" y1="255" x2="285.8" y2="255" stroke="#3a3a3a" stroke-width="0.8"/>
<circle cx="282.6" cy="225.3" r="2.25" fill="#fff" stroke="#3a3a3a" stroke-width="0.8"/>
<circle cx="277.4" cy="249.3" r="2.25" fill="#fff" stroke="#3a3a3a" stroke-width="0.8"/>
<circle cx="288.2" cy="248.8" r="2.25" fill="#fff" stroke="#3a3a3a" stroke-width="0.8"/>
<line x1="306.1" y1="316" x2="306.1" y2="321.5" stroke="#3a3a3a" stroke-width="0.8"/>
<line x1="303.3" y1="316" x2="308.9" y2="316" stroke="#3a3a3a" stroke-width="0.8"/>
<line x1="303.3" y1="321.5" x2="308.9" y2="321.5" stroke="#3a3a3a" stroke-width="0.8"/>
<circle cx="300.8" cy="320" r="2.25" fill="#fff" stroke="#3a3a3a" stroke-width="0.8"/>
<circle cx="304.4" cy="318.2" r="2.25" fill="#fff" stroke="#3a3a3a" stroke-width="0.8"/>
<circle cx="308" cy="317" r="2.25" fill="#fff" stroke="#3a3a3a" stroke-width="0.8"/>
<circle cx="311.6" cy="318.7" r="2.25" fill="#fff" stroke="#3a3a3a" stroke-width="0.8"/>
<line x1="329.7" y1="311.5" x2="329.7" y2="316" stroke="#3a3a3a" stroke-width="0.8"/>
<line x1="326.9" y1="311.5" x2="332.5" y2="311.5" stroke="#3a3a3a" stroke-width="0.8"/>
<line x1="326.9" y1="316" x2="332.5" y2="316" stroke="#3a3a3a" stroke-width="0.8"/>
<circle cx="324.2" cy="315.6" r="2.25" fill="#fff" stroke="#3a3a3a" stroke-width="0.8"/>
<circle cx="329.7" cy="313.2" r="2.25" fill="#fff" stroke="#3a3a3a" stroke-width="0.8"/>
<circle cx="335" cy="312.8" r="2.25" fill="#fff" stroke="#3a3a3a" stroke-width="0.8"/>
<line x1="282.6" y1="219.8" x2="330.2" y2="219.8" stroke="#777" stroke-width="1"/>
<line x1="282.6" y1="219.8" x2="282.6" y2="223" stroke="#777" stroke-width="1"/>
<line x1="305.5" y1="219.8" x2="305.5" y2="275.5" stroke="#777" stroke-width="1"/>
<line x1="330.2" y1="219.8" x2="330.2" y2="270.6" stroke="#777" stroke-width="1"/>
<text x="309.8" y="294.9" font-size="10.3" text-anchor="middle" textLength="34.2" lengthAdjust="spacingAndGlyphs" transform="rotate(-90 309.8 294.9)"><tspan font-style="italic">P</tspan> = 0.02</text>
<text x="332.4" y="289" font-size="10.3" text-anchor="middle" textLength="34.1" lengthAdjust="spacingAndGlyphs" transform="rotate(-90 332.4 289)"><tspan font-style="italic">P</tspan> = 0.02</text>
<text x="232" y="364.7" font-size="11" font-weight="bold" fill="#EF9418" textLength="31.4" lengthAdjust="spacingAndGlyphs">Neu A</text>
<text x="232" y="378.3" font-size="11" font-weight="bold" fill="#9247BE" textLength="30.7" lengthAdjust="spacingAndGlyphs">Neu S</text>
<line x1="281" y1="361.9" x2="284.2" y2="361.9" stroke="#333" stroke-width="1"/>
<line x1="328.1" y1="361.9" x2="331.3" y2="361.9" stroke="#333" stroke-width="1"/>
<line x1="281" y1="375" x2="284.2" y2="375" stroke="#333" stroke-width="1"/>
<line x1="304.5" y1="375" x2="307.7" y2="375" stroke="#333" stroke-width="1"/>
<text x="306.1" y="365.3" font-size="11" text-anchor="middle" fill="#EF9418">+</text>
<text x="329.7" y="378.6" font-size="11" text-anchor="middle" fill="#9247BE">+</text>
<text x="306.3" y="397.6" font-size="13.8" font-weight="bold" text-anchor="middle" textLength="99" lengthAdjust="spacingAndGlyphs">Neuraminidase</text>
<text x="362" y="219.5" font-size="16" font-weight="bold">g</text>
<text x="396.2" y="279.7" font-size="13.8" text-anchor="middle" textLength="127.2" lengthAdjust="spacingAndGlyphs" transform="rotate(-90 396.2 279.7)"><tspan font-weight="bold"># of Beads</tspan> (% Max)</text>
<line x1="403.5" y1="211.2" x2="403.5" y2="345.4" stroke="#777" stroke-width="1"/>
<path d="M403.5 256.4 L408.5 256.3 C410 256 411 240 412.5 228 C413.5 220 414.5 213 416.5 212.2 C418 213 419 218 421 224 C424 232 426 238 429 244 C432 250 436 254 441 255.5 L446 256.2 L491.5 256.4" fill="#EC96BD" stroke="#D24C9E" stroke-width="0.8"/>
<path d="M403.5 301.3 L405 301 C408 299 411 293 414 284 C417 273 421 263 425 258.5 C427 257 430 257 432 260 C435 267 437 278 440 288 C442 295 444 299.5 448 300.8 L491.5 301.3" fill="#92D6EC" stroke="#2AB4E2" stroke-width="0.8"/>
<path d="M404 345 C412 344.6 420 343 426 339.5 C430 336 433 326 436 318 C438 312.5 439 310.5 440.5 310.5 C442 310.8 443.5 314 445 320 C447 330 449 338 452 342 C455 344.5 458 345 465 345.2 L491 345.2" fill="#F9C98B" stroke="#F2A02C" stroke-width="0.8"/>
<path d="M406 345.4 C408 344 409.5 336 411 322 C412 310 413.5 302 414.9 301.3 C416.5 302 418 310 420 320 C422 330 425 338 428.5 342 C431 344.5 433 345.2 436 345.4" fill="none" stroke="#222" stroke-width="0.8"/>
<line x1="403.5" y1="345.4" x2="491.3" y2="345.4" stroke="#555" stroke-width="1"/>
<line x1="405.5" y1="345.4" x2="405.5" y2="347.6" stroke="#555" stroke-width="0.7"/>
<line x1="408" y1="345.4" x2="408" y2="347.6" stroke="#555" stroke-width="0.7"/>
<line x1="410.5" y1="345.4" x2="410.5" y2="347.6" stroke="#555" stroke-width="0.7"/>
<line x1="413.7" y1="345.4" x2="413.7" y2="347.6" stroke="#555" stroke-width="0.7"/>
<line x1="417" y1="345.4" x2="417" y2="347.6" stroke="#555" stroke-width="0.7"/>
<line x1="420" y1="345.4" x2="420" y2="347.6" stroke="#555" stroke-width="0.7"/>
<line x1="423" y1="345.4" x2="423" y2="347.6" stroke="#555" stroke-width="0.7"/>
<line x1="427" y1="345.4" x2="427" y2="347.6" stroke="#555" stroke-width="0.7"/>
<line x1="432" y1="345.4" x2="432" y2="347.6" stroke="#555" stroke-width="0.7"/>
<line x1="436" y1="345.4" x2="436" y2="347.6" stroke="#555" stroke-width="0.7"/>
<line x1="441.7" y1="345.4" x2="441.7" y2="347.6" stroke="#555" stroke-width="0.7"/>
<line x1="447" y1="345.4" x2="447" y2="347.6" stroke="#555" stroke-width="0.7"/>
<line x1="451" y1="345.4" x2="451" y2="347.6" stroke="#555" stroke-width="0.7"/>
<line x1="455" y1="345.4" x2="455" y2="347.6" stroke="#555" stroke-width="0.7"/>
<line x1="458" y1="345.4" x2="458" y2="347.6" stroke="#555" stroke-width="0.7"/>
<line x1="461.8" y1="345.4" x2="461.8" y2="347.6" stroke="#555" stroke-width="0.7"/>
<line x1="467" y1="345.4" x2="467" y2="347.6" stroke="#555" stroke-width="0.7"/>
<line x1="471" y1="345.4" x2="471" y2="347.6" stroke="#555" stroke-width="0.7"/>
<line x1="475" y1="345.4" x2="475" y2="347.6" stroke="#555" stroke-width="0.7"/>
<line x1="478" y1="345.4" x2="478" y2="347.6" stroke="#555" stroke-width="0.7"/>
<line x1="481.1" y1="345.4" x2="481.1" y2="347.6" stroke="#555" stroke-width="0.7"/>
<line x1="486" y1="345.4" x2="486" y2="347.6" stroke="#555" stroke-width="0.7"/>
<line x1="489" y1="345.4" x2="489" y2="347.6" stroke="#555" stroke-width="0.7"/>
<text x="413.7" y="362" font-size="10.5" text-anchor="middle">0</text>
<text x="442.3" y="362" font-size="10.5" text-anchor="middle">10<tspan font-size="7" dy="-4">3</tspan></text>
<text x="462.4" y="362" font-size="10.5" text-anchor="middle">10<tspan font-size="7" dy="-4">4</tspan></text>
<text x="481.7" y="362" font-size="10.5" text-anchor="middle">10<tspan font-size="7" dy="-4">5</tspan></text>
<text x="421.4" y="256" font-size="11" textLength="69.9" lengthAdjust="spacingAndGlyphs">β1-4GalNT1<tspan font-size="6.5" dy="-4.5">-/-</tspan></text>
<text x="449.1" y="301" font-size="11" textLength="42.1" lengthAdjust="spacingAndGlyphs">WT N2a</text>
<text x="465.2" y="344" font-size="11" textLength="26" lengthAdjust="spacingAndGlyphs">5% <tspan font-weight="bold">5</tspan></text>
<text x="445.6" y="379.6" font-size="13.8" font-weight="bold" text-anchor="middle" textLength="144" lengthAdjust="spacingAndGlyphs">Liposome/EV Binding</text>
<text x="445.2" y="398" font-size="13.8" text-anchor="middle" textLength="77.4" lengthAdjust="spacingAndGlyphs">(AF647/DiD)</text>
<text x="518.3" y="284.6" font-size="13.8" font-weight="bold" text-anchor="middle" textLength="74" lengthAdjust="spacingAndGlyphs" transform="rotate(-90 518.3 284.6)">EV Binding</text>
<line x1="571.1" y1="219.7" x2="571.1" y2="344.7" stroke="#777" stroke-width="1"/>
<line x1="564.7" y1="344.7" x2="571.1" y2="344.7" stroke="#777" stroke-width="1"/>
<line x1="564.7" y1="282.2" x2="571.1" y2="282.2" stroke="#777" stroke-width="1"/>
<line x1="564.7" y1="219.7" x2="571.1" y2="219.7" stroke="#777" stroke-width="1"/>
<line x1="567.6" y1="325.89" x2="571.1" y2="325.89" stroke="#777" stroke-width="1"/>
<line x1="567.6" y1="314.88" x2="571.1" y2="314.88" stroke="#777" stroke-width="1"/>
<line x1="567.6" y1="307.07" x2="571.1" y2="307.07" stroke="#777" stroke-width="1"/>
<line x1="567.6" y1="301.01" x2="571.1" y2="301.01" stroke="#777" stroke-width="1"/>
<line x1="567.6" y1="296.07" x2="571.1" y2="296.07" stroke="#777" stroke-width="1"/>
<line x1="567.6" y1="291.88" x2="571.1" y2="291.88" stroke="#777" stroke-width="1"/>
<line x1="567.6" y1="288.26" x2="571.1" y2="288.26" stroke="#777" stroke-width="1"/>
<line x1="567.6" y1="285.06" x2="571.1" y2="285.06" stroke="#777" stroke-width="1"/>
<line x1="567.6" y1="263.39" x2="571.1" y2="263.39" stroke="#777" stroke-width="1"/>
<line x1="567.6" y1="252.38" x2="571.1" y2="252.38" stroke="#777" stroke-width="1"/>
<line x1="567.6" y1="244.57" x2="571.1" y2="244.57" stroke="#777" stroke-width="1"/>
<line x1="567.6" y1="238.51" x2="571.1" y2="238.51" stroke="#777" stroke-width="1"/>
<line x1="567.6" y1="233.57" x2="571.1" y2="233.57" stroke="#777" stroke-width="1"/>
<line x1="567.6" y1="229.38" x2="571.1" y2="229.38" stroke="#777" stroke-width="1"/>
<line x1="567.6" y1="225.76" x2="571.1" y2="225.76" stroke="#777" stroke-width="1"/>
<line x1="567.6" y1="222.56" x2="571.1" y2="222.56" stroke="#777" stroke-width="1"/>
<text x="546.7" y="349.1" font-size="11">10<tspan font-size="7.5" dy="-4.6">1</tspan></text>
<text x="546.7" y="286.6" font-size="11">10<tspan font-size="7.5" dy="-4.6">2</tspan></text>
<text x="546.7" y="224.1" font-size="11">10<tspan font-size="7.5" dy="-4.6">3</tspan></text>
<text transform="rotate(-90 534 283.5)" x="534" y="283.5" font-size="13.8" text-anchor="middle">(MFI<tspan font-size="9.5" dy="3.8">AF647/DiD</tspan><tspan dy="-3.8">)</tspan></text>
<rect x="579.25" y="309.3" width="16.2" height="35.4" fill="#fff" stroke="#888" stroke-width="0.8"/>
<rect x="603.5" y="227.3" width="16.2" height="117.4" fill="#F8CF90" stroke="#666" stroke-width="0.8"/>
<rect x="627.3" y="258.5" width="16.2" height="86.2" fill="#93D6EB" stroke="#666" stroke-width="0.8"/>
<rect x="651.55" y="288.5" width="16.2" height="56.2" fill="#F3A9D0" stroke="#666" stroke-width="0.8"/>
<line x1="571.1" y1="344.9" x2="676.3" y2="344.9" stroke="#777" stroke-width="1"/>
<line x1="587.35" y1="344.9" x2="587.35" y2="352.4" stroke="#777" stroke-width="1"/>
<line x1="611.6" y1="344.9" x2="611.6" y2="352.4" stroke="#777" stroke-width="1"/>
<line x1="635.4" y1="344.9" x2="635.4" y2="352.4" stroke="#777" stroke-width="1"/>
<line x1="659.65" y1="344.9" x2="659.65" y2="352.4" stroke="#777" stroke-width="1"/>
<line x1="587.35" y1="306.5" x2="587.35" y2="311" stroke="#3a3a3a" stroke-width="0.8"/>
<line x1="584.55" y1="306.5" x2="590.15" y2="306.5" stroke="#3a3a3a" stroke-width="0.8"/>
<line x1="584.55" y1="311" x2="590.15" y2="311" stroke="#3a3a3a" stroke-width="0.8"/>
<circle cx="581.6" cy="305.8" r="2.25" fill="#fff" stroke="#3a3a3a" stroke-width="0.8"/>
<circle cx="587.4" cy="307.4" r="2.25" fill="#fff" stroke="#3a3a3a" stroke-width="0.8"/>
<circle cx="593.2" cy="309.9" r="2.25" fill="#fff" stroke="#3a3a3a" stroke-width="0.8"/>
<circle cx="581.6" cy="310.7" r="2.25" fill="#fff" stroke="#3a3a3a" stroke-width="0.8"/>
<line x1="611.6" y1="224.5" x2="611.6" y2="229.9" stroke="#3a3a3a" stroke-width="0.8"/>
<line x1="608.2" y1="224.5" x2="615" y2="224.5" stroke="#3a3a3a" stroke-width="0.8"/>
<line x1="608.2" y1="229.9" x2="615" y2="229.9" stroke="#3a3a3a" stroke-width="0.8"/>
<circle cx="605.5" cy="226.6" r="2.25" fill="#fff" stroke="#3a3a3a" stroke-width="0.8"/>
<circle cx="610.5" cy="226.6" r="2.25" fill="#fff" stroke="#3a3a3a" stroke-width="0.8"/>
<circle cx="614.6" cy="226.6" r="2.25" fill="#fff" stroke="#3a3a3a" stroke-width="0.8"/>
<circle cx="617.6" cy="226.6" r="2.25" fill="#fff" stroke="#3a3a3a" stroke-width="0.8"/>
<circle cx="611.3" cy="231.3" r="2.25" fill="#fff" stroke="#3a3a3a" stroke-width="0.8"/>
<line x1="635.4" y1="255.4" x2="635.4" y2="261" stroke="#3a3a3a" stroke-width="0.8"/>
<line x1="632" y1="255.4" x2="638.8" y2="255.4" stroke="#3a3a3a" stroke-width="0.8"/>
<line x1="632" y1="261" x2="638.8" y2="261" stroke="#3a3a3a" stroke-width="0.8"/>
<circle cx="629.5" cy="259.6" r="2.25" fill="#fff" stroke="#3a3a3a" stroke-width="0.8"/>
<circle cx="635.3" cy="259.6" r="2.25" fill="#fff" stroke="#3a3a3a" stroke-width="0.8"/>
<circle cx="641" cy="259.6" r="2.25" fill="#fff" stroke="#3a3a3a" stroke-width="0.8"/>
<circle cx="635.4" cy="253.3" r="2.25" fill="#fff" stroke="#3a3a3a" stroke-width="0.8"/>
<line x1="659.65" y1="286" x2="659.65" y2="290.2" stroke="#3a3a3a" stroke-width="0.8"/>
<line x1="656.85" y1="286" x2="662.45" y2="286" stroke="#3a3a3a" stroke-width="0.8"/>
<line x1="656.85" y1="290.2" x2="662.45" y2="290.2" stroke="#3a3a3a" stroke-width="0.8"/>
<circle cx="653.9" cy="287.4" r="2.25" fill="#fff" stroke="#3a3a3a" stroke-width="0.8"/>
<circle cx="653.9" cy="290" r="2.25" fill="#fff" stroke="#3a3a3a" stroke-width="0.8"/>
<circle cx="659.6" cy="288.9" r="2.25" fill="#fff" stroke="#3a3a3a" stroke-width="0.8"/>
<circle cx="665.2" cy="288.7" r="2.25" fill="#fff" stroke="#3a3a3a" stroke-width="0.8"/>
<path d="M635.4 248.1V231.3H660.1V242.3" stroke="#777" stroke-width="1" fill="none"/>
<text x="663.8" y="264" font-size="10.3" text-anchor="middle" textLength="38.7" lengthAdjust="spacingAndGlyphs" transform="rotate(-90 663.8 264)"><tspan font-style="italic">P</tspan> = 0.005</text>
<text x="587.35" y="363.4" font-size="11" text-anchor="middle">0</text>
<text x="611.6" y="363.4" font-size="11" text-anchor="middle">5</text>
<text x="635.4" y="363.4" font-size="11" text-anchor="middle">WT</text>
<text x="659.65" y="363.4" font-size="11" text-anchor="middle">-/-</text>
<line x1="587.4" y1="368.8" x2="611.1" y2="368.8" stroke="#444" stroke-width="0.8"/>
<line x1="635.7" y1="368.8" x2="659.5" y2="368.8" stroke="#444" stroke-width="0.8"/>
<text x="599.5" y="380.1" font-size="11" font-weight="bold" text-anchor="middle" textLength="39.6" lengthAdjust="spacingAndGlyphs">mol% 5</text>
<text x="648.3" y="380.1" font-size="11" font-weight="bold" text-anchor="middle" textLength="20.4" lengthAdjust="spacingAndGlyphs">N2a</text>
<text x="624" y="396.9" font-size="13.8" font-weight="bold" text-anchor="middle" textLength="68.9" lengthAdjust="spacingAndGlyphs">EV Source</text>
<text x="2.5" y="416.3" font-size="16" font-weight="bold">h</text>
<text x="11.6" y="486.7" font-size="13.8" font-weight="bold" text-anchor="middle" textLength="117.1" lengthAdjust="spacingAndGlyphs" transform="rotate(-90 11.6 486.7)">EV Internalization</text>
<text x="28.6" y="486.7" font-size="13.8" text-anchor="middle" textLength="74.1" lengthAdjust="spacingAndGlyphs" transform="rotate(-90 28.6 486.7)">(rel. to Max)</text>
<line x1="65" y1="428.75" x2="65" y2="554" stroke="#777" stroke-width="1"/>
<line x1="57.5" y1="554" x2="65" y2="554" stroke="#777" stroke-width="1"/>
<text x="56.1" y="557.9" font-size="11" text-anchor="end">0</text>
<line x1="57.5" y1="528.95" x2="65" y2="528.95" stroke="#777" stroke-width="1"/>
<text x="56.1" y="532.85" font-size="11" text-anchor="end">0.25</text>
<line x1="57.5" y1="503.9" x2="65" y2="503.9" stroke="#777" stroke-width="1"/>
<text x="56.1" y="507.8" font-size="11" text-anchor="end">0.50</text>
<line x1="57.5" y1="478.85" x2="65" y2="478.85" stroke="#777" stroke-width="1"/>
<text x="56.1" y="482.75" font-size="11" text-anchor="end">0.75</text>
<line x1="57.5" y1="453.8" x2="65" y2="453.8" stroke="#777" stroke-width="1"/>
<text x="56.1" y="457.7" font-size="11" text-anchor="end">1.00</text>
<line x1="57.5" y1="428.75" x2="65" y2="428.75" stroke="#777" stroke-width="1"/>
<text x="56.1" y="432.65" font-size="11" text-anchor="end">1.25</text>
<line x1="61.2" y1="541.48" x2="65" y2="541.48" stroke="#777" stroke-width="1"/>
<line x1="61.2" y1="516.42" x2="65" y2="516.42" stroke="#777" stroke-width="1"/>
<line x1="61.2" y1="491.38" x2="65" y2="491.38" stroke="#777" stroke-width="1"/>
<line x1="61.2" y1="466.32" x2="65" y2="466.32" stroke="#777" stroke-width="1"/>
<line x1="61.2" y1="441.27" x2="65" y2="441.27" stroke="#777" stroke-width="1"/>
<rect x="72" y="530.5" width="12.7" height="23.5" fill="#DCDCDC" stroke="#666" stroke-width="0.8"/>
<rect x="91.62" y="526.3" width="12.7" height="27.7" fill="#AFB0DD" stroke="#666" stroke-width="0.8"/>
<rect x="111.24" y="526.3" width="12.7" height="27.7" fill="#A3D5B9" stroke="#666" stroke-width="0.8"/>
<rect x="130.86" y="529.8" width="12.7" height="24.2" fill="#DCDCDC" stroke="#666" stroke-width="0.8"/>
<rect x="150.48" y="512.4" width="12.7" height="41.6" fill="#AFB0DD" stroke="#666" stroke-width="0.8"/>
<rect x="170.1" y="518.2" width="12.7" height="35.8" fill="#A3D5B9" stroke="#666" stroke-width="0.8"/>
<rect x="189.72" y="525.2" width="12.7" height="28.8" fill="#DCDCDC" stroke="#666" stroke-width="0.8"/>
<rect x="209.34" y="454.4" width="12.7" height="99.6" fill="#AFB0DD" stroke="#666" stroke-width="0.8"/>
<rect x="228.96" y="465.4" width="12.7" height="88.6" fill="#A3D5B9" stroke="#666" stroke-width="0.8"/>
<line x1="65" y1="554" x2="248.8" y2="554" stroke="#777" stroke-width="1"/>
<circle cx="74.75" cy="530.5" r="1.9" fill="#fff" stroke="#3a3a3a" stroke-width="0.8"/>
<circle cx="78.35" cy="530.5" r="1.9" fill="#fff" stroke="#3a3a3a" stroke-width="0.8"/>
<circle cx="81.95" cy="530.5" r="1.9" fill="#fff" stroke="#3a3a3a" stroke-width="0.8"/>
<line x1="97.97" y1="524" x2="97.97" y2="529" stroke="#3a3a3a" stroke-width="0.8"/>
<line x1="95.37" y1="524" x2="100.57" y2="524" stroke="#3a3a3a" stroke-width="0.8"/>
<line x1="95.37" y1="529" x2="100.57" y2="529" stroke="#3a3a3a" stroke-width="0.8"/>
<circle cx="94.37" cy="526.5" r="1.9" fill="#fff" stroke="#3a3a3a" stroke-width="0.8"/>
<circle cx="97.97" cy="526.5" r="1.9" fill="#fff" stroke="#3a3a3a" stroke-width="0.8"/>
<circle cx="101.57" cy="526.5" r="1.9" fill="#fff" stroke="#3a3a3a" stroke-width="0.8"/>
<circle cx="97.97" cy="524.3" r="1.9" fill="#fff" stroke="#3a3a3a" stroke-width="0.8"/>
<line x1="117.59" y1="524.5" x2="117.59" y2="528.5" stroke="#3a3a3a" stroke-width="0.8"/>
<line x1="114.99" y1="524.5" x2="120.19" y2="524.5" stroke="#3a3a3a" stroke-width="0.8"/>
<line x1="114.99" y1="528.5" x2="120.19" y2="528.5" stroke="#3a3a3a" stroke-width="0.8"/>
<circle cx="113.99" cy="526.8" r="1.9" fill="#fff" stroke="#3a3a3a" stroke-width="0.8"/>
<circle cx="117.59" cy="526.8" r="1.9" fill="#fff" stroke="#3a3a3a" stroke-width="0.8"/>
<circle cx="121.19" cy="526.8" r="1.9" fill="#fff" stroke="#3a3a3a" stroke-width="0.8"/>
<circle cx="117.59" cy="524.8" r="1.9" fill="#fff" stroke="#3a3a3a" stroke-width="0.8"/>
<circle cx="133.61" cy="530" r="1.9" fill="#fff" stroke="#3a3a3a" stroke-width="0.8"/>
<circle cx="137.21" cy="530" r="1.9" fill="#fff" stroke="#3a3a3a" stroke-width="0.8"/>
<circle cx="140.81" cy="530" r="1.9" fill="#fff" stroke="#3a3a3a" stroke-width="0.8"/>
<line x1="156.83" y1="509.5" x2="156.83" y2="515" stroke="#3a3a3a" stroke-width="0.8"/>
<line x1="154.23" y1="509.5" x2="159.43" y2="509.5" stroke="#3a3a3a" stroke-width="0.8"/>
<line x1="154.23" y1="515" x2="159.43" y2="515" stroke="#3a3a3a" stroke-width="0.8"/>
<circle cx="153.23" cy="511" r="1.9" fill="#fff" stroke="#3a3a3a" stroke-width="0.8"/>
<circle cx="154.23" cy="513.5" r="1.9" fill="#fff" stroke="#3a3a3a" stroke-width="0.8"/>
<circle cx="160.33" cy="513" r="1.9" fill="#fff" stroke="#3a3a3a" stroke-width="0.8"/>
<line x1="176.45" y1="515.5" x2="176.45" y2="521" stroke="#3a3a3a" stroke-width="0.8"/>
<line x1="173.85" y1="515.5" x2="179.05" y2="515.5" stroke="#3a3a3a" stroke-width="0.8"/>
<line x1="173.85" y1="521" x2="179.05" y2="521" stroke="#3a3a3a" stroke-width="0.8"/>
<circle cx="172.85" cy="518.4" r="1.9" fill="#fff" stroke="#3a3a3a" stroke-width="0.8"/>
<circle cx="176.45" cy="518.4" r="1.9" fill="#fff" stroke="#3a3a3a" stroke-width="0.8"/>
<circle cx="180.05" cy="518.4" r="1.9" fill="#fff" stroke="#3a3a3a" stroke-width="0.8"/>
<circle cx="176.45" cy="516" r="1.9" fill="#fff" stroke="#3a3a3a" stroke-width="0.8"/>
<circle cx="192.47" cy="525.3" r="1.9" fill="#fff" stroke="#3a3a3a" stroke-width="0.8"/>
<circle cx="196.07" cy="525.3" r="1.9" fill="#fff" stroke="#3a3a3a" stroke-width="0.8"/>
<circle cx="199.67" cy="525.3" r="1.9" fill="#fff" stroke="#3a3a3a" stroke-width="0.8"/>
<line x1="215.69" y1="450" x2="215.69" y2="459" stroke="#3a3a3a" stroke-width="0.8"/>
<line x1="213.09" y1="450" x2="218.29" y2="450" stroke="#3a3a3a" stroke-width="0.8"/>
<line x1="213.09" y1="459" x2="218.29" y2="459" stroke="#3a3a3a" stroke-width="0.8"/>
<circle cx="215.69" cy="446.1" r="1.9" fill="#fff" stroke="#3a3a3a" stroke-width="0.8"/>
<circle cx="211.39" cy="456.8" r="1.9" fill="#fff" stroke="#3a3a3a" stroke-width="0.8"/>
<circle cx="219.99" cy="456.8" r="1.9" fill="#fff" stroke="#3a3a3a" stroke-width="0.8"/>
<line x1="235.31" y1="462.5" x2="235.31" y2="469.5" stroke="#3a3a3a" stroke-width="0.8"/>
<line x1="232.71" y1="462.5" x2="237.91" y2="462.5" stroke="#3a3a3a" stroke-width="0.8"/>
<line x1="232.71" y1="469.5" x2="237.91" y2="469.5" stroke="#3a3a3a" stroke-width="0.8"/>
<circle cx="235.31" cy="460" r="1.9" fill="#fff" stroke="#3a3a3a" stroke-width="0.8"/>
<circle cx="231.01" cy="467.5" r="1.9" fill="#fff" stroke="#3a3a3a" stroke-width="0.8"/>
<circle cx="239.61" cy="467.5" r="1.9" fill="#fff" stroke="#3a3a3a" stroke-width="0.8"/>
<line x1="98.5" y1="519.4" x2="117" y2="519.4" stroke="#777" stroke-width="1"/>
<text x="107" y="518.4" font-size="10" text-anchor="middle" textLength="13.2" lengthAdjust="spacingAndGlyphs">NS</text>
<line x1="156.8" y1="506.7" x2="176" y2="506.7" stroke="#777" stroke-width="1"/>
<text x="167" y="505.8" font-size="10" text-anchor="middle" textLength="13.2" lengthAdjust="spacingAndGlyphs">NS</text>
<line x1="215" y1="443.2" x2="235" y2="443.2" stroke="#777" stroke-width="1"/>
<text x="225.8" y="442.2" font-size="10" text-anchor="middle" textLength="13.2" lengthAdjust="spacingAndGlyphs">NS</text>
<line x1="72" y1="558.5" x2="124.2" y2="558.5" stroke="#444" stroke-width="0.8"/>
<line x1="131.3" y1="558.5" x2="182.6" y2="558.5" stroke="#444" stroke-width="0.8"/>
<line x1="189.4" y1="558.5" x2="241.4" y2="558.5" stroke="#444" stroke-width="0.8"/>
<text x="97.1" y="571" font-size="11.5" text-anchor="middle" textLength="34.1" lengthAdjust="spacingAndGlyphs">15 min</text>
<text x="156.1" y="571" font-size="11.5" text-anchor="middle" textLength="34.2" lengthAdjust="spacingAndGlyphs">30 min</text>
<text x="214.4" y="571" font-size="11.5" text-anchor="middle" textLength="35.2" lengthAdjust="spacingAndGlyphs">60 min</text>
<text x="124.4" y="590.2" font-size="13.8" textLength="66.5" lengthAdjust="spacingAndGlyphs"><tspan font-weight="bold">Time</tspan> (min)</text>
<rect x="69.6" y="428.1" width="69.4" height="35.8" fill="#fff" stroke="#bbb" stroke-width="0.7"/>
<rect x="71.4" y="430.3" width="7.3" height="7" fill="#D8D8D8" stroke="none" stroke-width="0"/>
<rect x="71.4" y="442.7" width="7.3" height="7" fill="#A9AADB" stroke="none" stroke-width="0"/>
<rect x="71.4" y="455.1" width="7.3" height="7" fill="#9AD3B3" stroke="none" stroke-width="0"/>
<text x="79.6" y="437.4" font-size="10" fill="#B8B8B8" textLength="28.2" lengthAdjust="spacingAndGlyphs">Empty</text>
<text x="79.6" y="449.7" font-size="10" fill="#4345A6" textLength="41.5" lengthAdjust="spacingAndGlyphs">Sig-6 WT</text>
<text x="79.6" y="462" font-size="10" fill="#22A865" textLength="57.8" lengthAdjust="spacingAndGlyphs">Sig-6 R122A</text>
<text x="281.6" y="418.7" font-size="16" font-weight="bold">i</text>
<text x="395.4" y="422.1" font-size="11.4" text-anchor="middle" textLength="68" lengthAdjust="spacingAndGlyphs">Imaging Flow</text>
<text transform="rotate(-90 312 489.5)" x="312" y="489.5" font-size="13.8" text-anchor="middle" textLength="112.3" lengthAdjust="spacingAndGlyphs"><tspan font-weight="bold">Temperature</tspan> (°C)</text>
<text x="328.3" y="459.3" font-size="12.3" text-anchor="middle" transform="rotate(-90 328.3 459.3)">4</text>
<text x="328.3" y="519.8" font-size="12.3" text-anchor="middle" transform="rotate(-90 328.3 519.8)">37</text>
<g>
<rect x="333.2" y="427.2" width="61.4" height="61.2" fill="#969695"/>
<rect x="396.4" y="427.2" width="62.2" height="61.2" fill="#979795" stroke="#9A9AD0" stroke-width="0.9"/>
<rect x="333.2" y="490.4" width="61.4" height="61.2" fill="#959594"/>
<rect x="396.4" y="490.4" width="62.2" height="61.2" fill="#8A8A88" stroke="#9A9AD0" stroke-width="0.9"/>
</g>
<g filter="url(#blur1)">
<circle cx="362.9" cy="458.3" r="17.0" fill="url(#cellg)"/>
<rect x="344" y="440" width="38" height="38" fill="#fff" filter="url(#noise1)" clip-path="url(#cTL)" opacity="0.9"/>
<path d="M355.2 444.9 A15.3 15.3 0 1 0 368.3 472.9" stroke="#F6F6F6" stroke-width="2.6" fill="none"/>
<path d="M368.3 472.9 A15.4 15.4 0 0 0 377.6 453" stroke="#E2E2E2" stroke-width="1.2" fill="none"/>
<circle cx="362.9" cy="458.3" r="17.9" fill="none" stroke="#1E211D" stroke-width="2.2"/>
<circle cx="344.9" cy="456.6" r="1.5" fill="#3CE63C"/>
<circle cx="427.3" cy="457.8" r="18.2" fill="url(#cellg)"/>
<rect x="407" y="438" width="41" height="41" fill="#fff" filter="url(#noise2)" clip-path="url(#cTR)" opacity="0.9"/>
<circle cx="427.3" cy="457.8" r="16.6" fill="none" stroke="#F4F4F4" stroke-width="2.4"/>
<path d="M429 442 C438 446 441 456 437 466" stroke="#F0F0F0" stroke-width="2" fill="none"/>
<g fill="#F8F8F8"><ellipse cx="422" cy="445" rx="2.4" ry="1.8"/><ellipse cx="421" cy="458" rx="2" ry="2.6"/><ellipse cx="428" cy="467" rx="2.4" ry="1.6"/></g>
<circle cx="427.2" cy="457.8" r="19.2" fill="none" stroke="#1A2E1A" stroke-width="2.3"/>
<path d="M408.8 450 Q411 443 417.5 440" stroke="#4EE04E" stroke-width="2" fill="none"/>
<path d="M409.5 466 Q413 474 422 477" stroke="#3EA03E" stroke-width="1.4" fill="none"/>
<path d="M445.5 450 Q447.5 457 445.8 464" stroke="#3EA03E" stroke-width="1.2" fill="none"/>
<path d="M347.2 522 C346.8 511 352 504.2 360.5 503 C369 502 378.5 505 381 512.5 C384 521 382.5 532.5 374.5 538 C366 542.5 353 539.5 349 531 C347.8 528 347.3 525 347.2 522Z" fill="url(#cellg2)"/>
<rect x="345" y="500" width="40" height="44" fill="#fff" filter="url(#noise3)" clip-path="url(#cBL)" opacity="0.9"/>
<path d="M350 523 C350 512 356 506 364 506 C372 505.5 378 510 379.5 517 M352 530 C356 536.5 366 538.5 372 535.5 C377 532.5 379.5 527 379.6 521" stroke="#F6F6F6" stroke-width="3" fill="none"/>
<g fill="#F2F2F2"><ellipse cx="358" cy="519" rx="2.6" ry="1.8"/><ellipse cx="368" cy="526" rx="3" ry="2"/><ellipse cx="372" cy="516" rx="2.2" ry="1.6"/></g>
<path d="M345.6 522 C345 510 351 503 360 501.5 C369 500 379 503 382.5 512 C385.5 521 384 534 375 539.5 C366 544 352 541 347.5 532 C346.3 529 345.8 525 345.6 522Z" fill="none" stroke="#1A1F1A" stroke-width="2.3"/>
<circle cx="374.3" cy="503.4" r="2.3" fill="#F2F2F2"/>
<circle cx="380.8" cy="505.2" r="1.7" fill="#D6D6D6"/>
<circle cx="383" cy="522.5" r="1.3" fill="#44DD44"/>
<circle cx="357" cy="539.5" r="1.1" fill="#44BB44"/>
<circle cx="370" cy="540" r="1.1" fill="#44BB44"/>
<ellipse cx="440" cy="526" rx="9" ry="13" fill="#A2A2A0" opacity="0.7"/>
<path d="M406.6 521 C406 508 413 499.5 424 498.5 C436 497.5 445.5 505 446 517 C446.5 529 441 539 429 541.5 C416 543 407.5 534 406.6 521Z" fill="#1F5A1C"/>
<path d="M408.4 521 C408 509 414.5 501.3 424.5 500.4 C435.5 499.8 444 506.5 444.2 517 C444.5 528 439 537.7 428.5 539.7 C417 541 409.1 532.5 408.4 521Z" fill="#62D026"/>
<path d="M411.5 521 C411.3 511 417 504.5 425 504 C434 503.6 440.5 509 440.7 518 C441 527 436.5 534.5 428 536.2 C418.5 537.2 412 530.5 411.5 521Z" fill="url(#cellgreen)"/>
<rect x="408" y="500" width="36" height="40" fill="#fff" filter="url(#noise4)" clip-path="url(#cBR)" opacity="0.85"/>
<g fill="#FAFFF5"><ellipse cx="418" cy="526" rx="5" ry="4"/><ellipse cx="425" cy="532" rx="4" ry="2.6"/><ellipse cx="433" cy="523" rx="3" ry="2.4"/><ellipse cx="416" cy="515" rx="2.4" ry="3"/></g>
<g fill="#2C7A20" opacity="0.8"><ellipse cx="423" cy="512" rx="2.6" ry="2"/><ellipse cx="430" cy="509" rx="1.8" ry="1.6"/><ellipse cx="428" cy="518" rx="1.8" ry="1.5"/></g>
<ellipse cx="427.5" cy="496.6" rx="3.2" ry="2.2" fill="#E8E8E8"/>
<circle cx="434.8" cy="496" r="1.8" fill="#D0D0D0"/>
<circle cx="427.5" cy="543.5" r="2.2" fill="#D4D4D4"/>
<circle cx="415" cy="539" r="1.6" fill="#C8C8C8"/>
</g>
<line x1="333.9" y1="486.6" x2="354.7" y2="486.6" stroke="#222" stroke-width="0.9"/>
<line x1="397.2" y1="486.6" x2="418" y2="486.6" stroke="#222" stroke-width="0.9"/>
<line x1="333.9" y1="549.6" x2="354.7" y2="549.6" stroke="#222" stroke-width="0.9"/>
<line x1="397.2" y1="549.6" x2="418" y2="549.6" stroke="#222" stroke-width="0.9"/>
<text x="364.1" y="562.6" font-size="11.5" text-anchor="middle" fill="#999" textLength="30" lengthAdjust="spacingAndGlyphs">Empty</text>
<text x="432.7" y="562.6" font-size="11.5" text-anchor="middle" fill="#5052A8" textLength="49.3" lengthAdjust="spacingAndGlyphs">Sig-6 WT</text>
<text x="396.1" y="585.4" font-size="13.8" font-weight="bold" text-anchor="middle" textLength="57.9" lengthAdjust="spacingAndGlyphs">Cell Line</text>
<text x="499.3" y="419.5" font-size="16" font-weight="bold">j</text>
<text transform="rotate(-90 531.5 492.7)" x="531.5" y="492.7" font-size="13.8" text-anchor="middle" textLength="120.8" lengthAdjust="spacingAndGlyphs"><tspan font-weight="bold">Internalization</tspan> (%)</text>
<line x1="571.2" y1="430.4" x2="571.2" y2="555.1" stroke="#777" stroke-width="1"/>
<line x1="563.7" y1="555.1" x2="571.2" y2="555.1" stroke="#777" stroke-width="1"/>
<text x="560.3" y="559" font-size="11.5" text-anchor="end">0</text>
<line x1="563.7" y1="513.53" x2="571.2" y2="513.53" stroke="#777" stroke-width="1"/>
<text x="560.3" y="517.43" font-size="11.5" text-anchor="end">25</text>
<line x1="563.7" y1="471.97" x2="571.2" y2="471.97" stroke="#777" stroke-width="1"/>
<text x="560.3" y="475.87" font-size="11.5" text-anchor="end">50</text>
<line x1="563.7" y1="430.4" x2="571.2" y2="430.4" stroke="#777" stroke-width="1"/>
<text x="560.3" y="434.3" font-size="11.5" text-anchor="end">75</text>
<line x1="567.4" y1="546.79" x2="571.2" y2="546.79" stroke="#777" stroke-width="1"/>
<line x1="567.4" y1="538.47" x2="571.2" y2="538.47" stroke="#777" stroke-width="1"/>
<line x1="567.4" y1="530.16" x2="571.2" y2="530.16" stroke="#777" stroke-width="1"/>
<line x1="567.4" y1="521.85" x2="571.2" y2="521.85" stroke="#777" stroke-width="1"/>
<line x1="567.4" y1="505.22" x2="571.2" y2="505.22" stroke="#777" stroke-width="1"/>
<line x1="567.4" y1="496.91" x2="571.2" y2="496.91" stroke="#777" stroke-width="1"/>
<line x1="567.4" y1="488.59" x2="571.2" y2="488.59" stroke="#777" stroke-width="1"/>
<line x1="567.4" y1="480.28" x2="571.2" y2="480.28" stroke="#777" stroke-width="1"/>
<line x1="567.4" y1="463.65" x2="571.2" y2="463.65" stroke="#777" stroke-width="1"/>
<line x1="567.4" y1="455.34" x2="571.2" y2="455.34" stroke="#777" stroke-width="1"/>
<line x1="567.4" y1="447.02" x2="571.2" y2="447.02" stroke="#777" stroke-width="1"/>
<line x1="567.4" y1="438.71" x2="571.2" y2="438.71" stroke="#777" stroke-width="1"/>
<rect x="579.3" y="495" width="16.1" height="60.1" fill="#DCDCDC" stroke="#666" stroke-width="0.8"/>
<rect x="603.8" y="486.5" width="16.1" height="68.6" fill="#DCDCDC" stroke="#666" stroke-width="0.8"/>
<rect x="628" y="482.8" width="16.1" height="72.3" fill="#AFB0DD" stroke="#666" stroke-width="0.8"/>
<rect x="652" y="447" width="16.1" height="108.1" fill="#AFB0DD" stroke="#666" stroke-width="0.8"/>
<line x1="571.2" y1="555.1" x2="676.7" y2="555.1" stroke="#777" stroke-width="1"/>
<line x1="587.35" y1="481.4" x2="587.35" y2="507.2" stroke="#3a3a3a" stroke-width="0.8"/>
<line x1="584.15" y1="481.4" x2="590.55" y2="481.4" stroke="#3a3a3a" stroke-width="0.8"/>
<line x1="584.15" y1="507.2" x2="590.55" y2="507.2" stroke="#3a3a3a" stroke-width="0.8"/>
<circle cx="587.35" cy="481.2" r="2.25" fill="#fff" stroke="#3a3a3a" stroke-width="0.8"/>
<circle cx="587.35" cy="495.7" r="2.25" fill="#fff" stroke="#3a3a3a" stroke-width="0.8"/>
<circle cx="587.35" cy="506.6" r="2.25" fill="#fff" stroke="#3a3a3a" stroke-width="0.8"/>
<line x1="611.85" y1="474.8" x2="611.85" y2="497.3" stroke="#3a3a3a" stroke-width="0.8"/>
<line x1="608.65" y1="474.8" x2="615.05" y2="474.8" stroke="#3a3a3a" stroke-width="0.8"/>
<line x1="608.65" y1="497.3" x2="615.05" y2="497.3" stroke="#3a3a3a" stroke-width="0.8"/>
<circle cx="605.8" cy="477.7" r="2.25" fill="#fff" stroke="#3a3a3a" stroke-width="0.8"/>
<circle cx="618" cy="480.5" r="2.25" fill="#fff" stroke="#3a3a3a" stroke-width="0.8"/>
<circle cx="611.85" cy="499" r="2.25" fill="#fff" stroke="#3a3a3a" stroke-width="0.8"/>
<line x1="636.05" y1="476.6" x2="636.05" y2="487" stroke="#3a3a3a" stroke-width="0.8"/>
<line x1="632.85" y1="476.6" x2="639.25" y2="476.6" stroke="#3a3a3a" stroke-width="0.8"/>
<line x1="632.85" y1="487" x2="639.25" y2="487" stroke="#3a3a3a" stroke-width="0.8"/>
<circle cx="636.05" cy="476.6" r="2.25" fill="#fff" stroke="#3a3a3a" stroke-width="0.8"/>
<circle cx="630" cy="487" r="2.25" fill="#fff" stroke="#3a3a3a" stroke-width="0.8"/>
<circle cx="641.6" cy="483.5" r="2.25" fill="#fff" stroke="#3a3a3a" stroke-width="0.8"/>
<line x1="660.05" y1="442.2" x2="660.05" y2="448.4" stroke="#3a3a3a" stroke-width="0.8"/>
<line x1="657.25" y1="442.2" x2="662.85" y2="442.2" stroke="#3a3a3a" stroke-width="0.8"/>
<line x1="657.25" y1="448.4" x2="662.85" y2="448.4" stroke="#3a3a3a" stroke-width="0.8"/>
<circle cx="660.05" cy="442.5" r="2.25" fill="#fff" stroke="#3a3a3a" stroke-width="0.8"/>
<circle cx="655.4" cy="448.2" r="2.25" fill="#fff" stroke="#3a3a3a" stroke-width="0.8"/>
<circle cx="665.8" cy="448.2" r="2.25" fill="#fff" stroke="#3a3a3a" stroke-width="0.8"/>
<line x1="590.3" y1="465" x2="614.3" y2="465" stroke="#777" stroke-width="1"/>
<text x="603.3" y="464.3" font-size="10" text-anchor="middle" textLength="13.2" lengthAdjust="spacingAndGlyphs">NS</text>
<line x1="638.1" y1="437.3" x2="668.1" y2="437.3" stroke="#777" stroke-width="1"/>
<text x="628.9" y="436.6" font-size="10.3" textLength="39.2" lengthAdjust="spacingAndGlyphs"><tspan font-style="italic">P</tspan> = 0.002</text>
<text x="587.35" y="569.4" font-size="11.5" text-anchor="middle">4</text>
<text x="611.85" y="569.4" font-size="11.5" text-anchor="middle">37</text>
<text x="636.05" y="569.4" font-size="11.5" text-anchor="middle">4</text>
<text x="660.05" y="569.4" font-size="11.5" text-anchor="middle">37</text>
<line x1="579.5" y1="573.5" x2="619.7" y2="573.5" stroke="#BBB" stroke-width="0.9"/>
<line x1="627.9" y1="573.5" x2="667.7" y2="573.5" stroke="#7C7EC8" stroke-width="0.9"/>
<text x="599.8" y="585.4" font-size="11.5" text-anchor="middle" fill="#A0A0A0" textLength="31.6" lengthAdjust="spacingAndGlyphs">Empty</text>
<text x="647.7" y="585.4" font-size="11.5" text-anchor="middle" fill="#5052A8" textLength="45.9" lengthAdjust="spacingAndGlyphs">Sig-6 WT</text>
<text x="568.6" y="602.4" font-size="13.8" textLength="112.3" lengthAdjust="spacingAndGlyphs"><tspan font-weight="bold">Temperature</tspan> (°C)</text>
</svg>
</body></html>
